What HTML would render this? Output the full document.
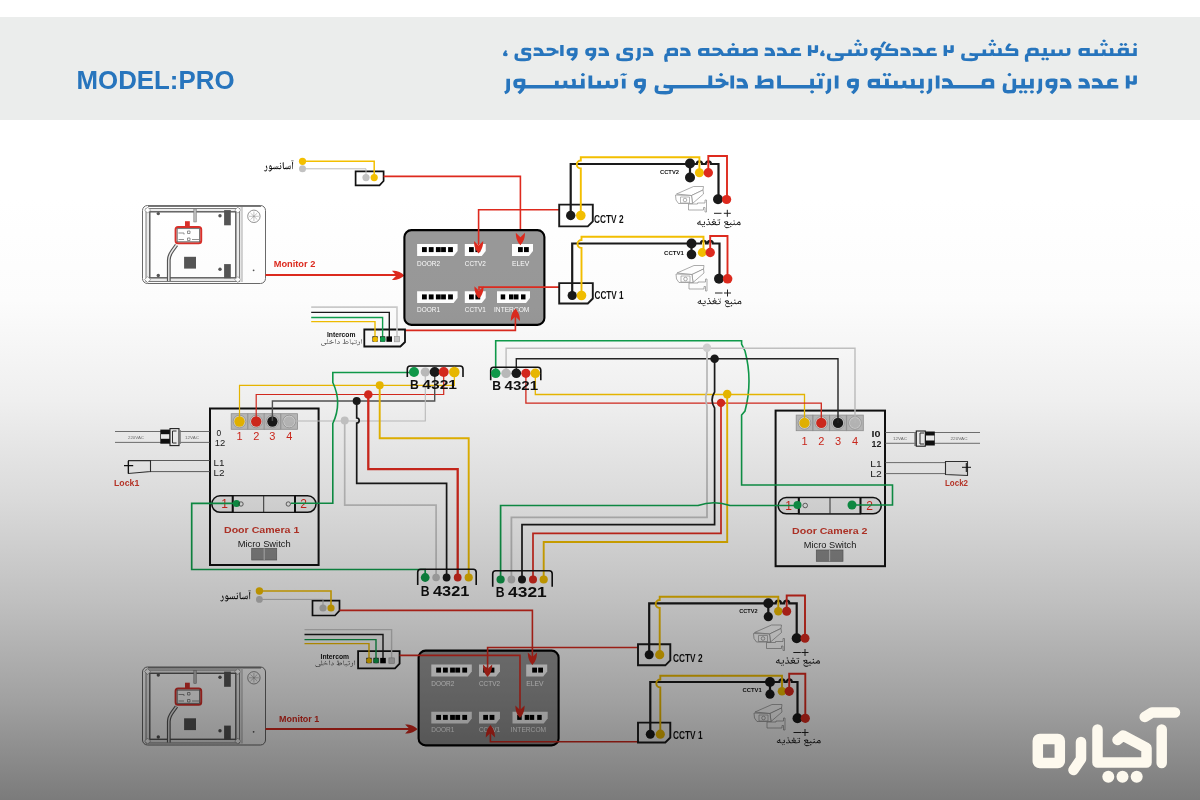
<!DOCTYPE html>
<html><head><meta charset="utf-8"><title>wiring</title><style>
html,body{margin:0;padding:0;width:1200px;height:800px;overflow:hidden;background:#fff}
#wrap{position:relative;width:1200px;height:800px;overflow:hidden}
#main,#logo{position:absolute;left:0;top:0}
#shade{position:absolute;left:0;top:0;width:1200px;height:800px;mix-blend-mode:multiply;
background:linear-gradient(to bottom,#fff 0%,#fff 25%,#fcfcfc 37.5%,#efefef 50%,#dadada 62.5%,#c0c0c0 75%,#a1a1a1 87.5%,#7b7b7b 100%)}
text{font-family:"Liberation Sans",sans-serif}
</style></head><body><div id="wrap">
<svg id="main" width="1200" height="800" viewBox="0 0 1200 800">
<rect x="0" y="17" width="1200" height="103" fill="#ebedec"/>
<text x="76.5" y="89" font-size="26" font-weight="bold" fill="#2775bd" textLength="158" lengthAdjust="spacingAndGlyphs">MODEL:PRO</text>
<path fill="#2775bd" d="M1047.6 57.6 1046.5 57.8 1045.6 58.5 1045.4 58.9 1045.6 59.5 1046.6 60.3 1047.2 60.4 1048.2 60.1 1049.0 59.2 1048.9 58.6ZM1042.7 57.6 1041.6 58.3 1041.3 58.7 1041.3 59.3 1042.2 60.1 1043.1 60.4 1043.7 60.3 1044.6 59.6 1044.9 58.9 1044.6 58.4 1043.8 57.8ZM822.3 50.3 820.4 53.2 820.2 53.8 820.2 55.1 820.5 55.8 821.1 56.1 823.3 56.2 824.0 56.0 824.4 55.7 824.7 54.8 824.7 54.1 824.3 53.2 823.4 52.8 824.1 50.7ZM505.2 50.3 503.3 53.2 503.1 53.8 503.1 55.1 503.4 55.8 504.0 56.1 506.2 56.2 506.9 56.0 507.3 55.7 507.6 54.8 507.6 54.1 507.2 53.2 506.3 52.8 507.0 50.7ZM867.0 48.0 863.6 48.3 864.2 50.8 864.2 52.5 863.9 53.2 861.0 53.2 859.9 52.9 859.7 52.6 859.7 49.5 856.3 49.5 856.3 52.7 855.8 53.1 855.1 53.2 851.8 53.2 851.8 49.5 848.4 49.5 848.3 53.2 838.5 53.2 835.4 52.8 834.9 55.5 837.1 56.0 840.5 56.2 840.5 57.5 840.2 57.8 839.0 58.2 830.5 58.3 830.2 57.5 830.2 55.8 830.9 53.8 827.7 53.4 827.4 54.0 826.9 55.8 826.9 58.0 827.3 59.0 828.3 60.2 830.6 60.9 833.4 61.2 838.5 61.1 841.0 60.7 842.2 60.2 843.0 59.6 843.6 58.3 843.8 56.1 855.2 56.1 856.7 56.0 857.8 55.6 859.5 56.0 862.9 56.1 864.9 55.8 865.9 55.4 866.5 54.9 867.4 53.2 867.5 50.1ZM640.7 47.9 637.4 47.9 637.3 57.1 636.9 57.9 636.4 58.3 635.3 58.7 636.5 61.0 638.4 60.3 639.5 59.4 640.4 58.1 640.7 56.7ZM633.1 48.2 629.5 47.7 626.0 47.8 624.2 48.3 623.5 49.0 623.2 49.7 622.9 52.2 623.2 53.3 623.6 54.1 624.5 54.7 625.7 55.0 629.7 55.4 629.8 57.5 629.4 58.0 627.3 58.3 619.9 58.3 619.6 57.5 619.6 55.8 620.2 53.8 617.0 53.4 616.7 54.0 616.3 55.8 616.3 58.0 616.6 59.0 617.2 59.8 617.7 60.2 618.9 60.7 620.0 60.9 622.7 61.2 626.4 61.2 628.6 61.0 630.4 60.7 631.6 60.2 632.3 59.6 633.0 58.3 633.1 54.9 632.9 54.1 632.5 53.6 631.3 52.8 629.4 52.5 626.6 52.3 626.4 52.1 626.4 50.9 626.6 50.7 628.0 50.6 632.5 50.9ZM531.3 48.2 527.7 47.7 524.2 47.8 522.5 48.3 521.7 49.0 521.4 49.7 521.2 52.2 521.4 53.3 521.8 54.1 522.7 54.7 523.9 55.0 527.9 55.4 528.0 57.5 527.6 58.0 525.5 58.3 518.1 58.3 517.8 57.5 517.8 55.8 518.4 53.8 515.3 53.4 514.9 54.0 514.5 55.8 514.5 58.0 514.8 59.0 515.4 59.8 515.9 60.2 517.1 60.7 518.2 60.9 520.9 61.2 524.7 61.2 526.8 61.0 528.6 60.7 529.8 60.2 530.5 59.6 531.2 58.3 531.3 54.9 531.1 54.1 530.8 53.6 529.6 52.8 527.6 52.5 524.9 52.3 524.7 52.1 524.7 50.9 524.9 50.7 526.2 50.6 530.8 50.9ZM1136.8 48.0 1133.5 47.9 1133.3 53.2 1128.9 53.2 1128.8 48.3 1125.8 47.7 1121.6 47.7 1119.9 48.1 1119.2 48.4 1118.4 49.0 1117.9 49.9 1117.7 51.7 1118.2 53.1 1118.1 53.2 1113.4 53.2 1113.5 50.1 1112.8 47.9 1109.6 48.3 1110.2 50.8 1110.2 52.5 1109.9 53.2 1106.9 53.2 1105.9 52.9 1105.6 52.6 1105.6 49.5 1102.3 49.5 1102.3 52.7 1101.6 53.2 1097.9 53.2 1097.8 49.5 1094.4 49.5 1094.4 53.2 1089.8 53.2 1089.7 47.9 1081.6 48.0 1080.3 48.3 1079.6 48.6 1078.7 49.6 1078.4 51.0 1078.5 53.8 1078.9 54.9 1079.7 55.5 1080.5 55.9 1082.3 56.1 1101.2 56.1 1102.7 56.0 1103.8 55.6 1104.9 56.0 1106.3 56.1 1136.8 56.1ZM1082.0 51.1 1082.7 50.8 1086.2 50.8 1086.4 51.0 1086.4 53.2 1082.3 53.2 1081.9 52.7ZM1121.3 50.9 1121.7 50.6 1125.3 50.5 1125.5 50.7 1125.4 52.9 1124.8 53.2 1121.3 53.2ZM1025.5 62.0 1028.7 61.6 1028.1 59.3 1028.1 57.1 1028.4 56.1 1058.2 56.1 1059.7 56.0 1060.8 55.6 1062.5 56.0 1065.9 56.1 1067.9 55.8 1068.9 55.4 1069.5 54.9 1070.4 53.2 1070.5 50.1 1070.0 48.0 1066.6 48.3 1067.2 50.8 1067.2 52.5 1066.9 53.2 1064.0 53.2 1062.9 52.9 1062.7 52.6 1062.7 49.5 1059.3 49.5 1059.3 52.7 1058.6 53.2 1054.9 53.2 1054.8 49.5 1051.4 49.5 1051.4 53.2 1047.0 53.2 1046.7 47.9 1043.5 47.9 1043.4 53.2 1038.8 53.2 1038.6 49.6 1037.9 48.6 1037.2 48.2 1035.6 47.7 1033.1 47.7 1031.0 47.8 1028.0 48.4 1027.2 50.6 1027.3 53.3 1025.9 54.0 1025.4 54.7 1024.9 55.8 1024.8 59.4ZM1035.4 50.8 1035.3 53.2 1030.6 53.2 1030.5 51.1 1030.7 50.8 1033.3 50.5 1035.2 50.6ZM698.0 51.0 698.0 53.0 698.5 54.9 699.3 55.5 700.2 55.9 701.9 56.1 716.0 56.1 717.2 56.0 719.0 55.4 720.7 54.3 721.6 55.7 722.5 56.1 757.8 56.1 757.8 50.2 757.4 49.1 756.6 48.3 755.9 48.0 754.1 47.7 751.5 47.8 749.4 48.3 747.9 49.0 746.7 50.1 746.5 47.9 743.3 47.9 743.1 53.2 738.6 53.2 738.5 48.3 736.7 47.9 734.2 47.7 732.4 47.7 730.3 47.9 729.2 48.3 728.1 49.0 727.4 50.5 727.4 51.7 727.9 53.1 727.8 53.2 723.7 53.2 722.0 49.9 720.7 48.8 719.2 48.1 716.4 47.7 713.4 47.7 712.4 47.9 712.9 50.7 715.2 50.5 717.1 50.6 718.5 51.0 719.0 51.5 718.6 52.1 717.7 52.7 716.5 53.2 709.4 53.2 709.3 47.9 702.4 47.9 700.0 48.3 698.8 48.9 698.3 49.6ZM701.6 51.1 702.4 50.8 705.8 50.8 706.1 51.0 706.1 53.2 701.9 53.2 701.5 52.7ZM754.5 51.0 754.5 53.1 754.3 53.2 746.7 53.2 746.9 52.7 747.5 51.8 749.0 51.0 751.2 50.6 753.7 50.7ZM731.0 50.9 731.4 50.6 735.0 50.5 735.2 50.7 735.1 52.9 734.5 53.2 731.0 53.2ZM676.6 48.2 675.0 47.7 672.5 47.7 669.3 48.0 667.2 48.5 666.6 50.6 666.7 53.3 665.5 53.8 664.8 54.5 664.2 56.4 664.2 59.4 664.8 62.0 668.1 61.6 667.4 59.3 667.4 57.1 667.8 56.1 678.0 56.1 678.0 50.0 677.7 49.1ZM674.8 50.8 674.6 53.2 670.0 53.2 669.8 51.1 670.1 50.8 672.7 50.5 674.5 50.6ZM590.2 47.7 587.4 48.2 586.2 48.9 585.4 50.2 585.2 52.4 585.6 54.2 586.7 55.4 588.4 56.0 592.0 56.2 590.5 58.0 589.0 59.2 591.3 61.0 592.8 59.8 594.0 58.6 594.9 57.4 595.8 55.7 596.2 54.1 596.2 48.3 593.4 47.7ZM588.8 51.0 589.2 50.6 592.8 50.5 592.8 53.0 592.3 53.2 588.9 53.2ZM571.6 47.7 568.7 48.2 567.5 48.9 566.8 50.2 566.5 52.4 567.0 54.2 568.1 55.4 569.7 56.0 573.3 56.2 571.9 58.0 570.4 59.2 572.7 61.0 574.2 59.8 575.4 58.6 576.3 57.4 577.1 55.7 577.6 54.1 577.6 48.3 574.7 47.7ZM570.1 51.0 570.6 50.6 574.2 50.5 574.2 53.0 573.6 53.2 570.3 53.2ZM912.8 47.8 913.6 50.7 915.3 50.5 916.8 50.5 917.7 50.7 918.6 51.6 919.1 53.2 912.6 53.2 912.6 56.1 936.8 56.1 936.8 53.2 930.9 53.2 930.3 53.1 929.9 52.7 930.0 50.7 932.5 50.6 935.1 51.0 935.7 48.2 933.7 47.8 930.6 47.7 929.2 47.9 928.3 48.3 927.3 49.0 926.7 50.1 926.6 53.2 923.0 53.2 922.8 53.1 921.6 49.9 920.8 48.9 920.0 48.3 919.2 47.9 917.5 47.6 914.8 47.6ZM900.6 47.8 901.4 50.7 903.1 50.5 904.6 50.5 905.5 50.7 906.3 51.6 906.9 53.2 900.3 53.2 900.3 56.1 910.8 56.1 910.8 53.6 909.9 51.0 908.6 48.9 907.4 48.1 905.9 47.7 902.6 47.6ZM777.1 47.8 777.9 50.7 779.6 50.5 781.1 50.5 782.0 50.7 782.9 51.6 783.4 53.2 776.9 53.2 776.9 56.1 801.1 56.1 801.1 53.2 795.2 53.2 794.6 53.1 794.2 52.7 794.3 50.7 796.8 50.6 799.4 51.0 800.0 48.2 798.0 47.8 794.9 47.7 793.5 47.9 792.6 48.3 791.6 49.0 791.0 50.1 790.9 53.2 787.3 53.2 787.1 53.1 785.9 49.9 785.1 48.9 784.3 48.3 783.5 47.9 781.8 47.6 779.1 47.6ZM764.9 47.8 765.7 50.7 767.4 50.5 768.9 50.5 769.8 50.7 770.6 51.6 771.2 53.2 764.6 53.2 764.6 56.1 775.1 56.1 775.1 53.6 774.2 51.0 772.9 48.9 771.7 48.1 770.2 47.7 766.9 47.6ZM680.3 47.8 681.2 50.7 682.8 50.5 684.4 50.5 685.2 50.7 686.1 51.6 686.6 53.2 680.1 53.2 680.1 56.1 690.6 56.1 690.6 53.6 689.7 51.0 688.4 48.9 687.2 48.1 685.7 47.7 682.4 47.6ZM643.1 47.8 644.0 50.7 645.6 50.5 647.2 50.5 648.0 50.7 648.9 51.6 649.4 53.2 642.9 53.2 642.9 56.1 653.4 56.1 653.4 53.6 652.5 51.0 651.2 48.9 650.0 48.1 648.5 47.7 645.2 47.6ZM598.7 47.8 599.6 50.7 601.2 50.5 602.8 50.5 603.6 50.7 604.5 51.6 605.0 53.2 598.5 53.2 598.5 56.1 609.0 56.1 609.0 53.6 608.1 51.0 606.8 48.9 605.6 48.1 604.1 47.7 600.8 47.6ZM533.7 47.8 534.6 50.7 536.2 50.5 537.7 50.5 538.6 50.7 539.5 51.6 540.0 53.2 533.5 53.2 533.5 56.1 550.3 56.0 551.6 55.8 553.6 55.0 555.5 53.4 558.5 53.4 558.5 50.5 556.5 50.5 555.0 48.8 554.4 48.5 552.7 47.9 550.6 47.7 547.5 47.7 546.5 47.9 547.0 50.7 550.0 50.5 551.9 50.8 553.0 51.3 553.0 51.6 552.1 52.4 551.2 52.9 549.4 53.2 544.0 53.2 543.7 53.1 542.5 49.9 541.8 48.9 540.9 48.3 540.1 47.9 538.4 47.6 535.8 47.6ZM953.8 45.2 950.5 45.2 950.4 50.0 947.8 50.0 947.1 49.7 947.0 45.2 943.6 45.2 943.6 56.1 947.0 56.1 947.1 52.3 948.1 52.7 949.6 52.9 951.9 52.9 953.0 52.6 953.4 52.3 953.8 51.6ZM818.1 45.2 814.8 45.2 814.7 50.0 812.1 50.0 811.4 49.7 811.3 45.2 807.9 45.2 807.9 56.1 811.3 56.1 811.4 52.3 812.4 52.7 813.9 52.9 816.2 52.9 817.3 52.6 817.7 52.3 818.1 51.6ZM560.2 45.1 560.2 56.1 563.6 56.1 563.6 45.1ZM1018.3 50.5 1017.7 49.2 1017.1 48.7 1016.0 48.3 1008.8 48.3 1008.8 47.7 1009.6 46.3 1011.6 44.4 1009.6 43.4 1008.9 43.3 1007.2 44.9 1006.0 46.7 1005.5 48.3 1005.5 49.6 1005.7 50.1 1006.3 50.7 1007.6 51.1 1014.9 51.1 1014.9 53.2 1001.8 53.2 1001.8 50.1 1001.1 47.9 997.9 48.3 998.5 50.8 998.5 52.5 998.2 53.2 995.2 53.2 994.2 52.9 993.9 52.6 993.9 49.5 990.6 49.5 990.6 52.7 990.1 53.1 989.4 53.2 986.2 53.2 986.1 49.5 982.7 49.5 982.6 53.2 972.8 53.2 969.7 52.8 969.2 55.5 972.1 56.0 974.6 56.1 974.7 57.5 974.3 58.0 972.2 58.3 964.8 58.3 964.5 57.5 964.5 55.8 965.1 53.8 962.2 53.4 961.9 53.5 961.4 54.7 961.2 55.8 961.2 58.0 961.5 59.0 962.1 59.8 962.6 60.2 963.8 60.7 966.3 61.1 971.4 61.2 975.0 60.8 976.5 60.2 977.2 59.6 977.8 58.7 978.1 56.1 989.5 56.1 991.0 56.0 992.1 55.6 993.2 56.0 994.6 56.1 1018.3 56.1ZM891.4 44.3 889.0 43.3 888.7 43.3 887.0 44.9 885.8 46.7 885.3 48.3 885.3 49.6 886.1 50.7 887.4 51.1 894.7 51.1 894.7 53.2 881.6 53.2 881.5 48.3 879.8 47.9 877.3 47.7 874.5 47.7 872.6 48.2 871.4 48.9 870.7 50.2 870.5 51.3 870.6 53.2 871.1 54.6 872.0 55.4 873.0 55.9 874.4 56.1 877.2 56.2 875.8 58.0 874.3 59.2 876.5 61.0 878.1 59.8 880.1 57.6 880.8 56.1 898.1 56.1 898.1 50.5 897.5 49.2 896.9 48.7 895.1 48.3 888.5 48.2 888.6 47.7 889.4 46.3ZM874.1 51.0 874.5 50.6 878.1 50.5 878.1 53.0 877.5 53.2 874.2 53.2ZM1134.8 43.1 1133.5 44.0 1133.3 44.6 1134.2 45.5 1135.2 45.9 1135.7 45.7 1136.7 45.0 1136.9 44.4 1136.7 43.9 1135.9 43.3ZM1125.9 43.1 1124.8 43.3 1124.0 43.9 1123.7 44.4 1124.0 45.0 1124.9 45.7 1125.5 45.9 1126.5 45.5 1127.3 44.7 1127.2 44.0ZM1121.0 43.1 1119.9 43.8 1119.6 44.2 1119.6 44.7 1120.5 45.5 1121.5 45.9 1122.0 45.7 1122.9 45.0 1123.2 44.4 1123.0 43.9 1122.1 43.3ZM1105.9 43.1 1104.9 43.6 1104.3 44.3 1104.3 44.6 1105.1 45.5 1106.2 45.9 1107.3 45.4 1107.9 44.6 1107.9 44.3 1106.8 43.3ZM1102.3 43.1 1101.2 43.3 1100.4 43.9 1100.1 44.4 1100.4 45.0 1101.2 45.6 1101.8 45.9 1102.8 45.5 1103.7 44.7 1103.7 44.2 1103.3 43.8ZM994.2 43.1 993.2 43.6 992.6 44.3 992.6 44.6 993.4 45.5 994.5 45.9 995.6 45.4 996.2 44.6 996.2 44.3 995.1 43.3ZM990.6 43.1 989.5 43.3 988.7 43.9 988.4 44.4 988.7 45.0 989.5 45.6 990.1 45.9 991.1 45.5 992.0 44.7 992.0 44.2 991.6 43.8ZM859.9 43.1 858.9 43.6 858.3 44.3 858.3 44.6 859.1 45.5 860.2 45.9 861.3 45.4 861.9 44.6 861.9 44.3 860.9 43.3ZM856.3 43.1 855.2 43.3 854.4 43.9 854.1 44.4 854.4 45.0 855.2 45.6 855.8 45.9 856.8 45.5 857.7 44.7 857.7 44.2 857.4 43.8ZM732.8 43.1 731.5 44.0 731.4 44.6 732.2 45.5 733.2 45.9 733.8 45.7 734.8 45.0 735.0 44.4 734.8 43.9 733.9 43.3ZM884.0 41.3 883.3 41.7 882.2 42.9 881.0 44.9 880.4 46.6 880.4 47.1 883.1 47.7 883.7 45.9 884.6 44.3 886.4 42.5 886.3 42.2ZM1103.7 39.5 1102.6 40.2 1102.3 40.6 1102.3 41.1 1103.2 42.1 1104.1 42.3 1104.8 42.1 1105.5 41.5 1105.9 40.9 1105.5 40.3 1104.8 39.7ZM992.0 39.5 990.9 40.2 990.6 40.6 990.6 41.1 991.5 42.1 992.4 42.3 993.1 42.1 993.8 41.5 994.2 40.9 993.8 40.3 993.1 39.7ZM857.7 39.5 856.6 40.2 856.3 40.6 856.3 41.1 857.3 42.1 858.1 42.3 858.8 42.1 859.5 41.5 859.9 40.9 859.5 40.3 858.8 39.7Z"/>
<path fill="#2775bd" d="M1031.5 90.2 1030.1 91.3 1030.0 92.0 1030.9 93.2 1032.0 93.5 1032.6 93.3 1033.7 92.5 1033.9 91.8 1033.7 91.2 1032.7 90.5ZM1025.9 90.2 1024.7 90.5 1023.8 91.2 1023.5 91.8 1023.8 92.5 1024.8 93.3 1025.4 93.5 1026.5 93.2 1027.5 92.0 1027.3 91.3ZM1020.5 90.2 1019.3 91.0 1019.0 91.5 1019.0 92.2 1019.9 93.2 1021.0 93.5 1021.6 93.3 1022.6 92.5 1022.9 91.8 1022.6 91.2 1021.7 90.5ZM921.6 90.2 920.1 91.3 920.0 92.0 921.0 93.2 922.0 93.5 922.6 93.3 923.7 92.5 924.0 91.8 923.7 91.2 922.8 90.5ZM811.7 90.2 810.3 91.3 810.2 92.0 811.1 93.2 812.2 93.5 812.8 93.3 813.9 92.5 814.1 91.8 813.9 91.2 812.9 90.5ZM1042.1 78.8 1038.6 78.8 1038.4 89.5 1038.0 90.5 1037.4 91.0 1036.2 91.5 1037.5 94.2 1039.6 93.3 1040.8 92.3 1041.8 90.8 1042.1 89.2ZM1002.7 86.7 1002.7 89.8 1003.0 91.0 1003.6 92.0 1004.3 92.7 1005.3 93.0 1007.9 93.5 1012.2 93.3 1013.4 93.2 1014.7 92.7 1015.5 91.8 1015.9 91.0 1016.2 88.5 1033.8 88.5 1033.8 78.8 1030.1 78.8 1030.0 85.0 1025.1 85.0 1025.0 78.8 1021.4 78.8 1021.3 85.0 1016.4 85.0 1016.1 84.8 1016.1 78.8 1012.5 78.8 1012.5 89.2 1011.8 89.8 1010.3 90.0 1006.6 90.0 1006.3 89.0 1006.3 86.7 1006.9 83.8 1003.6 83.3 1003.1 84.7ZM932.1 78.8 928.5 78.8 928.4 89.5 927.9 90.5 927.3 91.0 926.1 91.5 927.4 94.2 929.6 93.3 930.8 92.3 931.7 90.8 932.1 89.2ZM867.7 81.7 867.6 84.8 868.1 86.8 869.0 87.8 870.9 88.3 901.4 88.5 904.5 87.8 905.4 88.2 907.0 88.5 923.8 88.5 923.7 78.8 920.1 78.8 920.0 85.0 914.8 85.0 914.9 81.3 914.2 78.8 910.6 79.2 911.3 82.2 911.3 84.2 910.9 85.0 907.7 85.0 906.5 84.7 906.3 84.2 906.3 80.7 902.6 80.7 902.6 84.5 901.9 85.0 897.8 85.0 897.7 80.7 894.0 80.7 894.0 85.0 889.0 85.0 888.7 78.8 885.1 78.8 885.0 85.0 880.0 85.0 880.0 78.8 872.4 78.8 870.1 79.0 869.3 79.3 868.4 80.0ZM871.5 82.5 872.4 82.2 876.2 82.2 876.4 82.3 876.4 85.0 871.9 85.0 871.4 84.3ZM831.1 78.8 827.5 78.8 827.4 89.5 826.9 90.5 826.3 91.0 825.1 91.5 826.4 94.2 828.6 93.3 829.8 92.3 830.7 90.8 831.1 89.2ZM621.9 78.8 621.9 88.5 625.6 88.5 625.6 78.8ZM510.0 78.8 506.4 78.8 506.3 89.5 505.9 90.5 505.3 91.0 504.1 91.5 505.4 94.2 507.5 93.3 508.7 92.3 509.7 90.8 510.0 89.2ZM1050.9 78.5 1047.8 79.0 1046.4 80.0 1045.6 81.5 1045.4 84.0 1045.8 86.2 1047.0 87.7 1048.8 88.3 1052.8 88.5 1051.2 90.7 1049.5 92.0 1052.1 94.2 1053.7 92.8 1055.0 91.3 1056.0 90.0 1056.9 88.0 1057.4 86.0 1057.4 79.2 1054.3 78.5ZM1049.3 82.3 1049.8 82.0 1053.7 81.8 1053.7 84.8 1053.1 85.0 1049.4 85.0ZM852.3 78.5 849.2 79.0 847.9 80.0 847.1 81.5 846.8 84.0 847.3 86.2 848.5 87.7 850.3 88.3 854.2 88.5 852.7 90.7 851.0 92.0 853.5 94.2 855.2 92.8 856.5 91.3 857.5 90.0 858.4 88.0 858.9 86.0 858.9 79.2 855.8 78.5ZM850.8 82.3 851.2 82.0 855.2 81.8 855.2 84.8 854.6 85.0 850.9 85.0ZM639.3 78.5 636.2 79.0 634.9 80.0 634.1 81.5 633.8 84.0 634.3 86.2 635.5 87.7 637.3 88.3 641.2 88.5 639.7 90.7 638.0 92.0 640.5 94.2 642.2 92.8 643.5 91.3 644.5 90.0 645.4 88.0 645.9 86.0 645.9 79.2 642.8 78.5ZM637.8 82.3 638.3 82.0 642.2 81.8 642.2 84.8 641.6 85.0 637.9 85.0ZM513.3 82.8 513.3 84.0 513.6 85.8 514.0 86.7 514.9 87.7 516.7 88.3 520.7 88.5 519.1 90.7 517.4 92.0 519.8 94.2 521.6 92.8 523.8 90.2 524.6 88.5 562.4 88.5 564.1 88.2 565.3 87.8 566.5 88.2 568.1 88.5 584.8 88.5 584.6 78.8 581.1 78.8 580.9 85.0 575.8 85.0 575.9 81.3 575.2 78.8 571.6 79.2 572.4 82.2 572.4 84.2 572.0 85.0 568.8 85.0 567.6 84.7 567.3 84.2 567.3 80.7 563.6 80.7 563.6 84.5 563.2 84.8 562.3 85.0 558.7 85.0 558.7 80.7 555.0 80.7 554.9 85.0 525.4 85.0 525.3 79.2 523.5 78.8 520.8 78.5 517.1 78.7 515.6 79.0 514.9 79.5 513.7 80.8ZM517.2 82.3 517.7 82.0 521.6 81.8 521.6 84.8 521.0 85.0 517.3 85.0ZM1092.1 78.7 1093.0 82.0 1094.8 81.8 1096.5 81.8 1097.4 82.0 1098.4 83.2 1099.0 85.0 1091.8 85.0 1091.8 88.5 1118.3 88.5 1118.3 85.0 1111.9 85.0 1111.3 84.8 1110.8 84.3 1110.9 82.0 1113.7 82.0 1116.5 82.3 1117.1 79.0 1115.0 78.7 1111.5 78.5 1110.1 78.8 1109.0 79.2 1107.9 80.0 1107.3 81.3 1107.2 85.0 1103.3 85.0 1103.0 84.8 1101.7 81.2 1100.9 80.0 1099.9 79.2 1099.1 78.8 1097.2 78.3 1094.3 78.3ZM1078.7 78.7 1079.6 82.0 1081.4 81.8 1083.1 81.8 1084.1 82.0 1085.0 83.2 1085.6 85.0 1078.4 85.0 1078.4 88.5 1089.9 88.5 1089.9 85.5 1088.9 82.5 1087.5 80.0 1086.2 79.0 1084.5 78.5 1080.9 78.3ZM1060.2 78.7 1061.1 82.0 1062.9 81.8 1064.6 81.8 1065.5 82.0 1066.5 83.2 1067.1 85.0 1059.9 85.0 1059.9 88.5 1071.4 88.5 1071.4 85.5 1070.4 82.5 1069.0 80.0 1067.7 79.0 1066.0 78.5 1062.4 78.3ZM942.1 78.7 943.1 82.0 944.8 81.8 946.5 81.8 947.5 82.0 948.4 83.2 949.0 85.0 941.9 85.0 941.9 88.5 994.3 88.5 994.2 80.8 993.9 80.2 993.2 79.3 991.5 78.7 990.0 78.5 986.7 78.5 982.6 79.3 981.7 82.0 981.7 85.0 953.3 85.0 953.1 84.8 951.8 81.2 950.9 80.0 950.0 79.2 949.1 78.8 947.2 78.3 944.4 78.3ZM990.7 82.2 990.6 85.0 985.4 85.0 985.3 82.5 985.6 82.2 988.4 81.8 990.5 82.0ZM736.7 78.7 737.7 82.0 739.5 81.8 741.2 81.8 742.1 82.0 743.1 83.2 743.7 85.0 736.5 85.0 736.5 88.5 748.0 88.5 748.0 85.5 747.0 82.5 745.6 80.0 744.3 79.0 742.6 78.5 739.0 78.3ZM1136.9 75.5 1133.4 75.5 1133.2 81.2 1130.4 81.2 1129.7 80.8 1129.5 75.5 1125.8 75.5 1125.8 88.5 1129.5 88.5 1129.7 84.0 1130.7 84.3 1132.4 84.7 1134.9 84.7 1136.1 84.2 1136.5 84.0 1136.9 83.0ZM935.8 75.5 935.8 88.5 939.5 88.5 939.5 75.5ZM834.8 75.5 834.8 88.5 838.5 88.5 838.5 75.5ZM777.2 75.5 777.2 88.5 822.7 88.5 822.6 78.8 819.0 78.8 818.9 85.0 814.0 85.0 813.9 78.8 810.3 78.8 810.2 85.0 781.0 85.0 780.9 75.5ZM757.6 75.5 757.6 85.0 754.9 85.0 754.9 88.5 773.5 88.5 773.5 81.5 773.2 80.2 772.2 79.2 771.5 78.8 769.5 78.5 766.1 78.8 763.3 79.8 761.8 80.8 761.5 81.3 761.3 75.5ZM769.9 82.3 769.9 84.8 769.7 85.0 761.5 85.0 761.6 84.3 762.3 83.3 764.0 82.3 766.4 82.0 769.1 82.0ZM730.4 75.5 730.4 88.5 734.1 88.5 734.1 75.5ZM728.5 81.8 726.4 81.8 724.7 79.8 724.1 79.5 722.2 78.8 719.9 78.5 715.5 78.7 716.0 82.0 718.5 81.8 720.5 82.0 722.1 82.5 722.5 82.8 722.5 83.0 721.1 84.3 719.4 85.0 712.3 85.0 712.2 75.5 708.5 75.5 708.3 85.0 667.3 85.0 663.9 84.5 663.3 87.8 665.7 88.2 669.4 88.5 669.4 90.0 669.2 90.5 668.5 90.8 666.7 91.0 658.5 91.0 658.2 90.0 658.2 88.0 658.9 85.8 655.4 85.2 655.1 86.0 654.6 88.0 654.6 90.7 655.0 91.8 655.6 92.8 656.2 93.2 657.5 93.8 660.2 94.3 665.7 94.5 669.7 94.0 671.3 93.2 672.2 92.5 672.8 91.5 673.1 88.5 719.6 88.3 721.0 88.0 723.1 87.2 725.3 85.2 728.5 85.2ZM588.5 75.5 588.5 88.5 604.7 88.5 606.4 88.2 607.6 87.8 609.5 88.3 613.2 88.5 614.6 88.2 616.0 87.8 617.1 87.0 617.7 86.0 618.2 84.3 618.2 81.3 617.5 78.8 613.9 79.2 614.6 82.2 614.6 84.2 614.3 85.0 611.0 85.0 609.8 84.7 609.6 84.2 609.6 80.7 605.9 80.7 605.9 84.5 605.2 85.0 601.1 85.0 601.0 80.7 597.3 80.7 597.3 85.0 592.3 85.0 592.2 75.5ZM620.2 75.0 620.7 75.7 622.5 75.0 623.3 75.8 624.4 75.8 627.3 74.2 626.7 73.5 625.0 74.0 624.2 73.3 623.1 73.2 621.4 74.0ZM1009.1 73.0 1007.8 74.0 1007.5 75.0 1008.6 76.0 1009.6 76.3 1010.3 76.0 1011.1 75.3 1011.3 74.3 1010.4 73.3 1009.8 73.0ZM889.7 73.0 889.0 73.0 887.7 74.0 887.3 74.7 887.7 75.3 888.5 76.0 889.3 76.3 890.2 76.0 891.2 75.0 891.2 74.3 890.9 73.8ZM884.3 73.0 883.1 73.8 882.8 74.3 882.8 75.0 883.7 76.0 884.8 76.3 885.4 76.2 886.3 75.3 886.7 74.5 886.3 74.0 885.5 73.2ZM823.5 73.0 822.8 73.0 821.5 74.0 821.2 74.7 821.5 75.3 822.4 76.0 823.2 76.3 824.0 76.0 825.1 75.0 825.1 74.3 824.7 73.8ZM818.2 73.0 817.0 73.8 816.6 74.3 816.6 75.0 817.6 76.0 818.6 76.3 819.2 76.2 820.2 75.3 820.6 74.5 820.2 74.0 819.4 73.2ZM720.6 73.0 719.2 74.2 719.1 74.8 720.0 76.0 721.1 76.3 721.7 76.2 722.8 75.2 723.0 74.5 722.8 74.0 721.8 73.2ZM582.5 73.0 581.1 74.2 580.9 74.8 581.9 76.0 583.0 76.3 583.6 76.2 584.6 75.2 584.9 74.5 584.6 74.0 583.7 73.2Z"/>
<g transform="translate(0,0)">
<rect x="142.5" y="205.5" width="123" height="78" rx="5" fill="#fff" stroke="#6a6a6a" stroke-width="1"/>
<path d="M148,206.3 H261" stroke="#777" stroke-width="1.6"/>
<rect x="146" y="208.5" width="93.5" height="73" fill="#ececec" stroke="#707070" stroke-width="0.9"/>
<rect x="149.8" y="211.8" width="86" height="66" fill="#fff" stroke="#5a5a5a" stroke-width="1.4"/>
<path d="M144.6,210.1 L147.6,207.1 L150.6,210.1 L147.6,213.1 Z" fill="#fff" stroke="#777" stroke-width="0.6"/>
<path d="M234.8,210.1 L237.8,207.1 L240.8,210.1 L237.8,213.1 Z" fill="#fff" stroke="#777" stroke-width="0.6"/>
<path d="M144.6,279.6 L147.6,276.6 L150.6,279.6 L147.6,282.6 Z" fill="#fff" stroke="#777" stroke-width="0.6"/>
<path d="M234.8,279.6 L237.8,276.6 L240.8,279.6 L237.8,282.6 Z" fill="#fff" stroke="#777" stroke-width="0.6"/>
<rect x="240.5" y="207" width="2.4" height="75" fill="#d0d0d0"/>
<circle cx="253.9" cy="216.3" r="6.2" fill="#fff" stroke="#777" stroke-width="0.8"/>
<path d="M249,216.3 H258.8 M253.9,211.5 V221 M250.5,213 L257.3,219.6 M257.3,213 L250.5,219.6" stroke="#888" stroke-width="0.5"/>
<circle cx="253.6" cy="270.3" r="0.9" fill="#555"/>
<circle cx="158.3" cy="213.6" r="1.7" fill="#555"/>
<circle cx="158.3" cy="275.5" r="1.7" fill="#555"/>
<circle cx="220" cy="215.8" r="1.7" fill="#555"/>
<circle cx="220" cy="269.3" r="1.7" fill="#555"/>
<rect x="224.1" y="210.1" width="6.7" height="15.2" fill="#555"/>
<rect x="224.1" y="264.1" width="6.7" height="14.1" fill="#555"/>
<rect x="184.1" y="256.8" width="11.9" height="11.8" fill="#555"/>
<rect x="193.8" y="209" width="2.6" height="13" fill="#bbb" stroke="#777" stroke-width="0.5"/>
<path d="M176.5,245 L172.5,250.5 C170,254 168.8,256 168.8,260 V281" fill="none" stroke="#555" stroke-width="3.8"/>
<path d="M176.5,245 L172.5,250.5 C170,254 168.8,256 168.8,260 V281" fill="none" stroke="#eee" stroke-width="1.4"/>
<rect x="185" y="221.2" width="4.8" height="5.5" fill="#d9302a"/>
<rect x="175.6" y="227.1" width="25.6" height="16.2" rx="2.5" fill="#fff" stroke="#d9302a" stroke-width="2"/>
<rect x="177.2" y="228.6" width="22.4" height="13.2" fill="none" stroke="#666" stroke-width="0.9"/>
<path d="M178.5,233 H184 V234.5 M187.5,231 H190 V233.5 H187.5 Z M178.5,239.5 H184 M187.5,238 H190 V240.5 H187.5 Z M192,239.5 H199" fill="none" stroke="#777" stroke-width="0.8"/>
</g>
<path d="M265.5,275 H397" fill="none" stroke="#de2a1e" stroke-width="2" stroke-linejoin="miter" />
<text x="273.7" y="267" font-size="9.6" font-weight="bold" fill="#de2a1e" text-anchor="start" textLength="41.6" lengthAdjust="spacingAndGlyphs" >Monitor 2</text>
<path d="M404.4,275.4 C401.4,272.9 398.4,270.79999999999995 391.9,270.79999999999995 L396.4,275.4 L391.9,280.0 C398.4,280.0 401.4,277.9 404.4,275.4 Z" fill="#de2a1e"/>
<path d="M355.6,171.4 H383.6 V181 L379.5,185.4 H355.6 Z" fill="#fff" stroke="#111" stroke-width="1.7"/>
<path d="M302.5,161.3 H374.2 V177.5" fill="none" stroke="#f3bf00" stroke-width="1.5" stroke-linejoin="miter" />
<path d="M302.5,168.8 H366 V177.5" fill="none" stroke="#bdbdbd" stroke-width="1.0" stroke-linejoin="miter" />
<circle cx="302.5" cy="161.3" r="3.6" fill="#f3bf00"/>
<circle cx="302.5" cy="168.8" r="3.5" fill="#c2c2c2"/>
<circle cx="366" cy="177.6" r="3.6" fill="#c2c2c2"/>
<circle cx="374.2" cy="177.6" r="3.6" fill="#f3bf00"/>
<path fill="#111" d="M266.6 165.3 266.0 165.9 265.8 166.4 266.2 167.4 266.8 168.6 266.7 169.3 265.8 170.2 265.1 170.4 264.0 170.2 263.8 170.6 265.0 171.5 266.0 171.3 266.5 170.9 267.2 169.6 267.3 167.7ZM280.9 165.0 280.7 165.1 280.2 165.8 280.2 166.2 280.8 167.4 280.8 167.8 279.6 168.1 278.2 167.9 278.0 167.5 278.5 166.2 277.9 166.1 277.7 166.4 277.3 167.9 276.9 168.2 276.2 168.1 276.7 166.3 276.2 166.2 275.9 166.5 275.6 167.5 275.3 168.1 274.4 168.2 274.2 168.0 274.5 166.7 274.1 166.7 273.7 167.5 273.2 168.0 272.0 168.1 271.4 166.0 270.7 165.3 270.1 165.3 269.6 165.8 269.1 167.0 269.1 168.2 269.2 168.6 269.8 169.0 271.3 169.3 270.3 170.2 269.6 170.4 268.4 170.2 268.3 170.6 269.5 171.5 269.9 171.5 271.0 170.9 271.5 170.2 272.0 169.2 273.7 169.0 274.4 169.3 275.6 169.1 277.1 169.3 277.5 169.1 277.8 168.7 278.9 169.2 279.6 169.2 280.5 168.9 281.0 168.6 281.4 167.4ZM269.5 166.9 269.8 166.5 270.3 166.4 271.0 167.0 271.4 168.0 270.0 167.9 269.6 167.6ZM280.5 162.7 280.3 162.7 279.7 163.4 280.4 164.1 281.0 163.4ZM292.9 162.1 292.6 162.1 292.0 162.6 292.4 169.2 292.9 169.1 292.9 163.6 293.2 163.3ZM282.6 162.8 283.0 168.0 283.4 168.8 284.2 169.2 285.7 169.0 286.4 169.3 287.3 169.3 287.8 169.1 288.0 168.8 289.7 169.3 290.3 169.2 290.7 167.7 290.3 165.3 289.5 166.1 289.5 166.6 290.2 168.1 290.1 168.3 289.1 168.1 288.3 167.7 288.7 166.3 288.2 166.2 287.9 166.5 287.7 167.5 287.3 168.1 286.5 168.2 286.2 168.0 286.6 166.7 286.2 166.7 285.7 167.5 285.2 168.0 284.0 168.0 283.8 167.7 283.6 162.1ZM291.1 161.1 291.4 161.2 292.0 161.0 292.3 161.2 293.1 161.2 293.6 160.9 293.8 160.5 293.2 160.7 291.7 160.5Z"/>
<path d="M383.6,176.4 H520.4 V238" fill="none" stroke="#de2a1e" stroke-width="1.6" stroke-linejoin="miter" />
<g transform="translate(0,0)">
<rect x="404.4" y="230.1" width="140" height="94.8" rx="7" fill="#999" stroke="#000" stroke-width="2.1"/>
<path d="M417.1,243.9 H457.6 V250.9 L453.6,255.9 H417.1 Z" fill="#fff"/>
<rect x="422" y="247.1" width="4.8" height="5.0" fill="#000"/>
<rect x="428.8" y="247.1" width="4.8" height="5.0" fill="#000"/>
<rect x="435.9" y="247.1" width="4.8" height="5.0" fill="#000"/>
<rect x="441.1" y="247.1" width="4.8" height="5.0" fill="#000"/>
<rect x="448.1" y="247.1" width="4.8" height="5.0" fill="#000"/>
<path d="M464.8,243.9 H485.75 V250.9 L481.75,255.9 H464.8 Z" fill="#fff"/>
<rect x="469" y="247.1" width="4.8" height="5.0" fill="#000"/>
<rect x="475.4" y="247.1" width="4.8" height="5.0" fill="#000"/>
<path d="M512,243.9 H533 V250.9 L529,255.9 H512 Z" fill="#fff"/>
<rect x="518" y="247.1" width="4.8" height="5.0" fill="#000"/>
<rect x="524" y="247.1" width="4.8" height="5.0" fill="#000"/>
<path d="M417.1,291.25 H457.6 V298.1 L453.6,303.1 H417.1 Z" fill="#fff"/>
<rect x="422" y="294.4" width="4.8" height="5.0" fill="#000"/>
<rect x="428.8" y="294.4" width="4.8" height="5.0" fill="#000"/>
<rect x="435.9" y="294.4" width="4.8" height="5.0" fill="#000"/>
<rect x="441.1" y="294.4" width="4.8" height="5.0" fill="#000"/>
<rect x="448.1" y="294.4" width="4.8" height="5.0" fill="#000"/>
<path d="M464.8,291.25 H485.75 V298.1 L481.75,303.1 H464.8 Z" fill="#fff"/>
<rect x="469" y="294.4" width="4.8" height="5.0" fill="#000"/>
<rect x="475.4" y="294.4" width="4.8" height="5.0" fill="#000"/>
<path d="M497,291.25 H530 V298.1 L526,303.1 H497 Z" fill="#fff"/>
<rect x="500.7" y="294.4" width="4.5" height="5.0" fill="#000"/>
<rect x="509" y="294.4" width="4.5" height="5.0" fill="#000"/>
<rect x="514" y="294.4" width="4.5" height="5.0" fill="#000"/>
<rect x="521" y="294.4" width="4.5" height="5.0" fill="#000"/>
<text x="417.1" y="265.6" font-size="7.6" font-weight="normal" fill="#fff" text-anchor="start" textLength="23" lengthAdjust="spacingAndGlyphs" >DOOR2</text>
<text x="464.8" y="265.6" font-size="7.6" font-weight="normal" fill="#fff" text-anchor="start" textLength="21" lengthAdjust="spacingAndGlyphs" >CCTV2</text>
<text x="512" y="265.6" font-size="7.6" font-weight="normal" fill="#fff" text-anchor="start" textLength="17.3" lengthAdjust="spacingAndGlyphs" >ELEV</text>
<text x="417.1" y="311.5" font-size="7.6" font-weight="normal" fill="#fff" text-anchor="start" textLength="23" lengthAdjust="spacingAndGlyphs" >DOOR1</text>
<text x="464.8" y="311.5" font-size="7.6" font-weight="normal" fill="#fff" text-anchor="start" textLength="21" lengthAdjust="spacingAndGlyphs" >CCTV1</text>
<text x="494" y="311.5" font-size="7.6" font-weight="normal" fill="#fff" text-anchor="start" textLength="35.4" lengthAdjust="spacingAndGlyphs" >INTERCOM</text>
</g>
<path d="M520.4,245.2 C517.9,242.2 515.8,239.2 515.8,232.7 L520.4,237.2 L525.0,232.7 C525.0,239.2 522.9,242.2 520.4,245.2 Z" fill="#de2a1e"/>
<path d="M559.2,209.8 H478.6 V245" fill="none" stroke="#de2a1e" stroke-width="1.6" stroke-linejoin="miter" />
<path d="M478.6,253.6 C476.1,250.6 474.0,247.6 474.0,241.1 L478.6,245.6 L483.20000000000005,241.1 C483.20000000000005,247.6 481.1,250.6 478.6,253.6 Z" fill="#de2a1e"/>
<path d="M559.2,287.1 H479 V290" fill="none" stroke="#de2a1e" stroke-width="1.6" stroke-linejoin="miter" />
<path d="M479,298.8 C476.5,295.8 474.4,292.8 474.4,286.3 L479,290.8 L483.6,286.3 C483.6,292.8 481.5,295.8 479,298.8 Z" fill="#de2a1e"/>
<path d="M405,330.4 H515.4 V315" fill="none" stroke="#de2a1e" stroke-width="1.6" stroke-linejoin="miter" />
<path d="M515.4,308.5 C512.9,311.5 510.79999999999995,314.5 510.79999999999995,321.0 L515.4,316.5 L520.0,321.0 C520.0,314.5 517.9,311.5 515.4,308.5 Z" fill="#de2a1e"/>
<path d="M364.3,329.5 H405 V342 L400.4,346.5 H364.3 Z" fill="#fff" stroke="#111" stroke-width="1.8"/>
<path d="M311.2,307.1 H397 V339" fill="none" stroke="#cdcdcd" stroke-width="1.6" stroke-linejoin="miter" />
<path d="M311.2,312.4 H389.3 V339" fill="none" stroke="#1a1a1a" stroke-width="1.4" stroke-linejoin="miter" />
<path d="M311.2,317.5 H382.6 V339" fill="none" stroke="#0f9f4c" stroke-width="1.4" stroke-linejoin="miter" />
<path d="M311.2,321.6 H375 V339" fill="none" stroke="#f3bf00" stroke-width="1.4" stroke-linejoin="miter" />
<rect x="372.4" y="336.3" width="5.3" height="5.4" fill="#111"/><circle cx="375.2" cy="339.3" r="2.7" fill="#f3bf00"/>
<rect x="380" y="336.3" width="5.3" height="5.4" fill="#111"/><circle cx="382.7" cy="339.3" r="2.7" fill="#0f9f4c"/>
<rect x="386.4" y="336.4" width="5.6" height="5.4" fill="#000"/>
<rect x="394.3" y="336.4" width="5.4" height="5.4" fill="#ccc" stroke="#999" stroke-width="0.6"/>
<text x="327" y="336.8" font-size="7.2" font-weight="bold" fill="#111" text-anchor="start" textLength="28.5" lengthAdjust="spacingAndGlyphs" >Intercom</text>
<path fill="#222" d="M352.7 344.3 352.1 344.7 352.8 345.1 353.3 344.6ZM359.2 341.5 358.8 341.8 358.8 342.2 359.6 343.4 359.6 343.6 359.2 344.2 358.6 344.6 358.1 344.7 356.9 344.6 356.9 344.9 357.8 345.2 358.5 345.1 359.1 344.9 359.8 344.0 359.9 342.9ZM338.9 341.1 338.5 341.3 338.5 341.8 339.4 343.1 338.9 343.3 337.6 343.3 336.9 343.0 336.8 343.5 337.4 343.8 338.4 343.8 339.5 343.5 339.8 342.7ZM354.9 340.0 354.4 340.5 354.9 340.8 355.4 340.4ZM331.2 340.0 330.7 340.5 331.3 340.9 331.8 340.4ZM356.2 340.0 355.7 340.3 356.3 340.7 356.8 340.3ZM361.6 339.2 361.2 339.5 361.4 343.8 361.7 343.7 361.7 340.2 362.0 340.0ZM349.8 339.5 350.2 343.2 350.5 343.6 351.0 343.8 351.7 343.8 352.2 343.7 352.6 343.4 353.6 343.8 354.5 343.8 355.7 343.6 356.3 343.4 356.5 342.5 356.2 341.3 356.1 341.3 355.7 341.8 356.1 342.9 356.1 343.1 355.1 343.3 353.5 343.3 352.9 343.0 353.3 342.4 352.9 342.3 352.5 342.9 351.9 343.3 350.9 343.3 350.6 343.2 350.4 342.8 350.3 339.2ZM344.2 339.3 343.9 339.5 343.9 340.1 344.5 342.7 343.9 343.2 342.7 343.0 342.6 343.2 343.6 343.7 344.6 343.8 346.2 343.8 347.8 343.4 348.4 342.9 348.5 342.2 347.9 341.7 347.2 341.4 346.2 341.5 344.9 342.4 344.6 340.7 344.6 340.2 344.7 339.8 344.5 339.2ZM348.2 342.6 347.9 342.9 346.5 343.3 344.4 343.2 345.4 342.4 346.2 342.0 346.7 341.9 347.4 342.1ZM335.6 339.2 335.2 339.5 335.4 343.8 335.7 343.7 335.7 340.2 336.0 340.0ZM334.0 342.6 332.7 342.4 330.9 341.6 330.0 341.5 329.4 341.8 329.3 342.2 330.5 342.0 331.1 342.2 332.0 342.8 330.0 343.3 328.2 343.3 327.9 343.2 327.7 342.7 327.7 339.2 327.2 339.5 327.5 343.1 327.0 343.3 324.5 343.2 324.3 343.7 325.8 344.5 324.9 344.9 323.8 345.1 322.6 345.1 321.9 344.9 321.4 344.3 321.4 343.5 321.2 343.5 321.0 343.8 321.0 344.7 321.2 345.0 322.0 345.5 324.0 345.5 325.3 345.1 326.1 344.6 326.1 344.1 325.4 343.8 325.4 343.7 326.9 343.8 327.7 343.5 328.4 343.8 330.3 343.7 332.5 343.0 333.6 343.0Z"/>
<path d="M559.2,204.6 H592.8 V221.4 L587.8,226.4 H559.2 Z" fill="#fff" stroke="#1a1a1a" stroke-width="1.9"/>
<path d="M570.7,215.5 V164 H696.8 A2.6,2.6 0 0 1 702.0,164 H705.7 A2.6,2.6 0 0 1 710.9,164 H718.5 V199" fill="none" stroke="#1a1a1a" stroke-width="2.2" stroke-linejoin="miter" />
<path d="M580.8,215.5 V168.5 A4,4 0 0 1 580.8,160.5 V157.2 H699.4 V172.8" fill="none" stroke="#f3bf00" stroke-width="1.9" stroke-linejoin="miter" />
<path d="M708.3,172.8 V156 H727 V199.5" fill="none" stroke="#de2a1e" stroke-width="1.9" stroke-linejoin="miter" />
<circle cx="570.7" cy="215.5" r="4.7" fill="#1a1a1a"/>
<circle cx="580.8" cy="215.5" r="4.8" fill="#f3bf00"/>
<path d="M690,163.5 V177.5" fill="none" stroke="#1a1a1a" stroke-width="2.2" stroke-linejoin="miter" />
<circle cx="690" cy="163.5" r="5" fill="#1a1a1a"/>
<circle cx="690" cy="177.5" r="5" fill="#1a1a1a"/>
<circle cx="699.4" cy="172.8" r="4.5" fill="#f3bf00"/>
<circle cx="708.3" cy="172.8" r="4.7" fill="#de2a1e"/>
<circle cx="718" cy="199.2" r="5" fill="#1a1a1a"/>
<circle cx="726.6" cy="199.5" r="4.6" fill="#de2a1e"/>
<text x="594" y="222.5" font-size="11" font-weight="bold" fill="#111" text-anchor="start" textLength="29.5" lengthAdjust="spacingAndGlyphs" >CCTV 2</text>
<text x="660" y="174" font-size="6.2" font-weight="bold" fill="#111" text-anchor="start" textLength="19" lengthAdjust="spacingAndGlyphs" >CCTV2</text>
<g transform="translate(675.5,186)" fill="#fff" stroke="#8a8a8a" stroke-width="0.7" stroke-linejoin="round">
<path d="M13,18 V24 H28 V21.5 H29.5 V26 H31 V14 H29.5 V17 H22 V18 Z"/>
<path d="M1,8 L18,0.5 H28 L27.5,4 L16,9.5 Z"/>
<path d="M16,9.5 L27.5,4 L28,8 L17,17.5 Z"/>
<path d="M0,9 L16,9.5 L17,17.5 L3,17.5 L0.5,14 Z"/>
<rect x="5" y="11" width="9" height="6" fill="none" stroke="#999"/>
<circle cx="9.5" cy="14" r="1.8" fill="none"/>
</g>
<path d="M714,213.3 h7.5 M723.8,213.3 h7 M727.3,209.8 v7" stroke="#222" stroke-width="1"/>
<path fill="#111" d="M702.9 226.1 702.0 226.6 702.8 227.3 703.4 226.6ZM730.7 226.0 730.0 226.7 730.8 227.3 731.6 226.6ZM704.3 225.9 703.7 226.5 704.4 227.1 705.1 226.4ZM724.1 222.1 724.1 222.6 724.3 222.8 724.5 222.7 725.9 224.1 724.7 225.2 724.5 225.8 724.6 226.8 725.2 227.6 726.6 228.2 728.1 228.1 729.4 227.5 729.8 227.2 729.7 227.0 727.1 227.3 725.7 227.0 725.0 226.4 724.9 225.9 725.2 225.3 726.2 224.5 727.3 225.0 728.8 225.2 729.9 225.0 730.6 224.4 731.0 224.8 732.3 225.2 733.4 225.0 734.1 224.4 734.5 224.8 735.8 225.2 736.3 225.1 737.1 224.6 738.6 225.1 740.0 225.2 740.6 224.4 740.4 222.9 740.0 222.2 739.3 221.6 738.3 221.8 737.7 222.5 737.1 223.5 736.5 224.0 735.9 224.2 734.7 224.0 734.4 223.7 734.9 222.8 734.7 222.6 734.2 222.8 733.5 223.9 732.6 224.2 731.6 224.1 730.9 223.7 731.5 222.8 731.3 222.6 730.8 222.7 730.2 223.7 729.6 224.1 727.5 224.1 727.3 223.9 728.2 223.0 728.3 222.4 728.0 221.7 726.9 221.2 725.1 221.4 724.5 221.6ZM738.5 222.7 739.0 222.6 739.4 223.0 739.7 223.7 739.6 224.3 738.4 224.1 737.7 223.7ZM725.3 222.3 726.2 222.1 726.9 222.2 727.3 222.7 727.2 223.1 726.5 223.6 725.1 222.5ZM706.1 224.7 707.0 225.2 708.8 225.1 709.9 224.6 710.6 225.0 711.4 225.2 713.2 224.9 714.0 224.5 715.1 225.0 716.6 225.2 718.7 224.9 719.6 224.5 720.1 223.5 719.5 221.2 718.7 221.9 718.8 222.6 719.4 223.5 719.3 223.9 717.2 224.2 715.2 224.1 715.1 223.9 715.9 223.0 715.9 222.1 715.2 221.4 713.6 221.2 712.3 221.6 711.7 222.3 711.9 222.8 712.3 222.7 713.4 223.9 713.2 224.1 711.2 224.2 710.7 224.0 710.2 223.5 709.7 222.6 709.2 220.9 709.0 220.9 708.6 221.3 708.5 221.8 709.5 224.0 708.9 224.2 707.2 224.2 706.3 223.8ZM713.1 222.3 713.8 222.1 714.7 222.2 715.0 222.5 714.9 223.2 714.3 223.6 712.9 222.5ZM697.1 223.5 697.1 224.0 698.6 224.7 699.5 224.8 699.9 224.1 700.5 224.9 701.7 225.2 704.4 224.7 704.8 224.5 705.2 223.5 704.7 221.2 703.8 221.9 703.9 222.6 704.5 223.5 704.4 223.9 702.3 224.2 701.5 224.2 700.5 223.9 700.3 220.6 699.4 221.1 699.4 221.5 698.2 222.1 697.5 222.7ZM699.9 223.7 699.5 223.8 698.4 223.6 697.7 223.2 698.3 222.7 699.5 222.3ZM734.0 220.3 733.3 221.0 734.1 221.6 734.8 220.9ZM718.2 219.5 717.3 220.0 718.1 220.7 718.7 220.0ZM719.6 219.3 719.0 219.9 719.7 220.5 720.4 219.8ZM713.9 219.1 713.2 219.8 714.0 220.5 714.8 219.7ZM708.2 218.8 707.5 219.6 708.3 220.2 709.1 219.5Z"/>
<path d="M559.2,283.1 H592.8 V298.5 L587.8,303.5 H559.2 Z" fill="#fff" stroke="#1a1a1a" stroke-width="1.9"/>
<path d="M572.2,295.5 V243.5 H700.9 A2.6,2.6 0 0 1 706.1,243.5 H707.6 A2.6,2.6 0 0 1 712.8,243.5 H719.5 V278.8" fill="none" stroke="#1a1a1a" stroke-width="2.2" stroke-linejoin="miter" />
<path d="M581.5,295.5 V248 A4,4 0 0 1 581.5,240 V236.8 H703.5 V252.5" fill="none" stroke="#f3bf00" stroke-width="1.9" stroke-linejoin="miter" />
<path d="M710.2,252.5 V236 H727.5 V278.8" fill="none" stroke="#de2a1e" stroke-width="1.9" stroke-linejoin="miter" />
<circle cx="572.2" cy="295.5" r="4.6" fill="#1a1a1a"/>
<circle cx="581.5" cy="295.5" r="4.8" fill="#f3bf00"/>
<path d="M691.5,243.5 V254.5" fill="none" stroke="#1a1a1a" stroke-width="2.2" stroke-linejoin="miter" />
<circle cx="691.5" cy="243.5" r="5" fill="#1a1a1a"/>
<circle cx="691.5" cy="254.5" r="4.8" fill="#1a1a1a"/>
<circle cx="702.2" cy="252.5" r="4.4" fill="#f3bf00"/>
<circle cx="710.2" cy="252.5" r="4.7" fill="#de2a1e"/>
<circle cx="719" cy="278.8" r="5" fill="#1a1a1a"/>
<circle cx="727.6" cy="278.8" r="4.8" fill="#de2a1e"/>
<text x="594.5" y="299.2" font-size="11" font-weight="bold" fill="#111" text-anchor="start" textLength="29" lengthAdjust="spacingAndGlyphs" >CCTV 1</text>
<text x="664" y="255" font-size="6.2" font-weight="bold" fill="#111" text-anchor="start" textLength="20" lengthAdjust="spacingAndGlyphs" >CCTV1</text>
<g transform="translate(676,265)" fill="#fff" stroke="#8a8a8a" stroke-width="0.7" stroke-linejoin="round">
<path d="M13,18 V24 H28 V21.5 H29.5 V26 H31 V14 H29.5 V17 H22 V18 Z"/>
<path d="M1,8 L18,0.5 H28 L27.5,4 L16,9.5 Z"/>
<path d="M16,9.5 L27.5,4 L28,8 L17,17.5 Z"/>
<path d="M0,9 L16,9.5 L17,17.5 L3,17.5 L0.5,14 Z"/>
<rect x="5" y="11" width="9" height="6" fill="none" stroke="#999"/>
<circle cx="9.5" cy="14" r="1.8" fill="none"/>
</g>
<path d="M715,293 h7.5 M724.0,293 h7 M727.5,289.5 v7" stroke="#222" stroke-width="1"/>
<path fill="#111" d="M703.4 305.1 702.5 305.7 703.3 306.3 703.9 305.7ZM731.5 305.0 730.7 305.7 731.6 306.4 732.3 305.7ZM704.9 304.9 704.2 305.6 705.0 306.1 705.6 305.5ZM724.8 301.2 724.8 301.8 725.0 301.9 725.2 301.8 726.6 303.2 725.4 304.2 725.2 304.9 725.3 305.8 725.9 306.6 727.3 307.2 728.8 307.1 730.1 306.5 730.5 306.2 730.4 306.0 727.8 306.3 726.4 306.0 725.7 305.5 725.6 304.9 725.9 304.3 726.9 303.6 728.1 304.1 729.5 304.2 730.6 304.1 731.4 303.5 731.8 303.9 733.1 304.2 734.1 304.1 734.9 303.5 735.3 303.9 736.6 304.2 737.1 304.1 737.8 303.7 739.4 304.1 740.8 304.2 741.4 303.4 741.2 302.0 740.8 301.3 740.1 300.8 739.1 301.0 738.5 301.6 737.8 302.6 737.3 303.1 736.7 303.3 735.5 303.1 735.2 302.8 735.7 301.9 735.5 301.8 735.0 301.9 734.2 303.0 733.4 303.3 732.3 303.2 731.7 302.8 732.2 301.9 732.0 301.8 731.6 301.8 730.9 302.8 730.3 303.2 728.2 303.2 728.1 303.0 728.9 302.1 729.0 301.5 728.7 300.9 727.6 300.3 725.8 300.5 725.2 300.8ZM739.3 301.8 739.7 301.8 740.2 302.1 740.5 302.8 740.4 303.4 739.2 303.2 738.5 302.8ZM726.0 301.4 726.9 301.2 727.6 301.3 728.1 301.8 727.9 302.2 727.2 302.7 725.8 301.6ZM706.7 303.8 707.5 304.2 709.4 304.1 710.5 303.7 711.2 304.1 712.0 304.2 713.8 304.0 714.7 303.6 715.7 304.1 717.2 304.2 719.3 304.0 720.3 303.6 720.7 302.6 720.2 300.3 719.3 301.1 719.4 301.7 720.1 302.6 720.0 303.0 717.9 303.3 715.8 303.2 715.7 303.0 716.6 302.1 716.6 301.2 715.8 300.5 714.2 300.3 712.9 300.8 712.3 301.4 712.5 301.9 712.9 301.8 714.0 303.0 713.8 303.2 711.8 303.3 711.3 303.1 710.8 302.6 710.3 301.8 709.8 300.1 709.6 300.1 709.1 300.4 709.0 301.0 710.1 303.1 709.5 303.3 707.8 303.3 706.9 302.9ZM713.7 301.4 714.5 301.2 715.3 301.3 715.6 301.6 715.5 302.3 714.9 302.7 713.5 301.6ZM697.6 302.6 697.6 303.1 699.1 303.8 700.0 303.9 700.4 303.2 701.1 304.0 702.2 304.2 705.0 303.8 705.3 303.6 705.7 302.6 705.2 300.3 704.4 301.1 704.5 301.7 705.1 302.6 705.0 303.0 702.9 303.3 702.0 303.3 701.1 303.0 700.8 299.7 699.9 300.3 699.9 300.6 698.7 301.2 698.0 301.8ZM700.4 302.8 700.0 302.9 698.9 302.7 698.2 302.3 698.8 301.8 700.0 301.4ZM734.8 299.5 734.0 300.2 734.9 300.8 735.6 300.1ZM718.8 298.7 718.0 299.2 718.7 299.8 719.3 299.2ZM720.3 298.5 719.7 299.1 720.4 299.6 721.0 299.0ZM714.6 298.3 713.8 299.0 714.7 299.6 715.4 298.9ZM708.8 298.0 708.1 298.8 708.9 299.4 709.7 298.7Z"/>
<rect x="210" y="408.5" width="108.60000000000002" height="156.5" fill="none" stroke="#111" stroke-width="2"/>
<rect x="231.2" y="413.7" width="16.6" height="15.6" fill="#c4c4c4" stroke="#9a9a9a" stroke-width="0.8"/>
<circle cx="239.5" cy="421.5" r="6.3" fill="#e6e6e6" stroke="#888" stroke-width="0.6"/>
<circle cx="239.5" cy="421.5" r="5.2" fill="#f3bf00"/>
<rect x="247.9" y="413.7" width="16.6" height="15.6" fill="#c4c4c4" stroke="#9a9a9a" stroke-width="0.8"/>
<circle cx="256.2" cy="421.5" r="6.3" fill="#e6e6e6" stroke="#888" stroke-width="0.6"/>
<circle cx="256.2" cy="421.5" r="5.2" fill="#de2a1e"/>
<rect x="264.1" y="413.7" width="16.6" height="15.6" fill="#c4c4c4" stroke="#9a9a9a" stroke-width="0.8"/>
<circle cx="272.4" cy="421.5" r="6.3" fill="#e6e6e6" stroke="#888" stroke-width="0.6"/>
<circle cx="272.4" cy="421.5" r="5.2" fill="#1a1a1a"/>
<rect x="280.9" y="413.7" width="16.6" height="15.6" fill="#c4c4c4" stroke="#9a9a9a" stroke-width="0.8"/>
<circle cx="289.2" cy="421.5" r="6.3" fill="#e6e6e6" stroke="#888" stroke-width="0.6"/>
<circle cx="289.2" cy="421.5" r="5.2" fill="#c2c2c2"/>
<text x="239.5" y="439.7" font-size="11" font-weight="normal" fill="#de2a1e" text-anchor="middle" >1</text>
<text x="256.2" y="439.7" font-size="11" font-weight="normal" fill="#de2a1e" text-anchor="middle" >2</text>
<text x="272.4" y="439.7" font-size="11" font-weight="normal" fill="#de2a1e" text-anchor="middle" >3</text>
<text x="289.2" y="439.7" font-size="11" font-weight="normal" fill="#de2a1e" text-anchor="middle" >4</text>
<rect x="211.8" y="495.8" width="104.19999999999999" height="16.499999999999943" rx="8.249999999999972" fill="#efefef" stroke="#111" stroke-width="1.5"/>
<rect x="232.7" y="495.8" width="62.30000000000001" height="16.499999999999943" fill="#f2f2f2" stroke="#111" stroke-width="1.1"/>
<path d="M232.7,495.8 V512.3 M295,495.8 V512.3" stroke="#111" stroke-width="2"/>
<path d="M263.7,495.8 V512.3" stroke="#222" stroke-width="0.9"/>
<text x="224.5" y="508.24999999999994" font-size="12" font-weight="normal" fill="#de2a1e" text-anchor="middle" >1</text>
<text x="303.5" y="508.24999999999994" font-size="12" font-weight="normal" fill="#de2a1e" text-anchor="middle" >2</text>
<text x="224" y="532.8" font-size="9.6" font-weight="bold" fill="#d03a2c" text-anchor="start" textLength="75.3" lengthAdjust="spacingAndGlyphs" >Door Camera 1</text>
<text x="237.7" y="546.6" font-size="8.6" font-weight="normal" fill="#222" text-anchor="start" textLength="53" lengthAdjust="spacingAndGlyphs" >Micro Switch</text>
<rect x="251.7" y="548.3" width="25.0" height="11.700000000000045" fill="#8a8a8a" stroke="#666" stroke-width="0.7"/>
<path d="M264.2,548.3 V560" stroke="#ddd" stroke-width="0.8"/>
<text x="216.5" y="435.6" font-size="8.4" font-weight="normal" fill="#222" text-anchor="start" >0</text>
<text x="214.8" y="445.9" font-size="8.8" font-weight="normal" fill="#222" text-anchor="start" textLength="10.5" lengthAdjust="spacingAndGlyphs" >12</text>
<text x="213.5" y="466" font-size="8.6" font-weight="normal" fill="#222" text-anchor="start" textLength="11" lengthAdjust="spacingAndGlyphs" >L1</text>
<text x="213.5" y="475.7" font-size="8.6" font-weight="normal" fill="#222" text-anchor="start" textLength="11" lengthAdjust="spacingAndGlyphs" >L2</text>
<path d="M115,431.5 H210 M115,442.4 H210" fill="none" stroke="#555" stroke-width="0.8" stroke-linejoin="miter" />
<rect x="160.3" y="429.6" width="9.7" height="14.1" fill="#111"/><rect x="161" y="434.2" width="8.5" height="4.6" fill="#fff"/><rect x="170" y="428.6" width="9" height="17" fill="#fff" stroke="#222" stroke-width="1.1"/><path d="M176.5,431 H172.5 V443 H176.5" fill="none" stroke="#333" stroke-width="1"/><rect x="179.2" y="430" width="1.6" height="14" fill="#888"/>
<text x="128" y="438.6" font-size="3.6" font-weight="normal" fill="#777" text-anchor="start" textLength="16" lengthAdjust="spacingAndGlyphs" >220VAC</text>
<text x="185" y="438.6" font-size="3.6" font-weight="normal" fill="#777" text-anchor="start" textLength="14" lengthAdjust="spacingAndGlyphs" >12VAC</text>
<path d="M150,460.5 H210 M150,471.6 H210" fill="none" stroke="#555" stroke-width="0.9" stroke-linejoin="miter" />
<path d="M128.5,460.6 H150.5 V471.6 L128.5,473.5 Z" fill="none" stroke="#333" stroke-width="1.1"/>
<path d="M124,465.7 H133.2 M128.3,461 V473.5" stroke="#111" stroke-width="1.2"/>
<text x="114" y="485.6" font-size="8.2" font-weight="bold" fill="#d03a2c" text-anchor="start" textLength="25.3" lengthAdjust="spacingAndGlyphs" >Lock1</text>
<rect x="775.6" y="410.6" width="109.39999999999998" height="155.60000000000002" fill="none" stroke="#111" stroke-width="2"/>
<rect x="796.2" y="415.1" width="16.6" height="15.6" fill="#c4c4c4" stroke="#9a9a9a" stroke-width="0.8"/>
<circle cx="804.5" cy="422.9" r="6.3" fill="#e6e6e6" stroke="#888" stroke-width="0.6"/>
<circle cx="804.5" cy="422.9" r="5.2" fill="#f3bf00"/>
<rect x="813.0" y="415.1" width="16.6" height="15.6" fill="#c4c4c4" stroke="#9a9a9a" stroke-width="0.8"/>
<circle cx="821.3" cy="422.9" r="6.3" fill="#e6e6e6" stroke="#888" stroke-width="0.6"/>
<circle cx="821.3" cy="422.9" r="5.2" fill="#de2a1e"/>
<rect x="829.7" y="415.1" width="16.6" height="15.6" fill="#c4c4c4" stroke="#9a9a9a" stroke-width="0.8"/>
<circle cx="838" cy="422.9" r="6.3" fill="#e6e6e6" stroke="#888" stroke-width="0.6"/>
<circle cx="838" cy="422.9" r="5.2" fill="#1a1a1a"/>
<rect x="846.7" y="415.1" width="16.6" height="15.6" fill="#c4c4c4" stroke="#9a9a9a" stroke-width="0.8"/>
<circle cx="855" cy="422.9" r="6.3" fill="#e6e6e6" stroke="#888" stroke-width="0.6"/>
<circle cx="855" cy="422.9" r="5.2" fill="#c2c2c2"/>
<text x="804.5" y="444.8" font-size="11" font-weight="normal" fill="#de2a1e" text-anchor="middle" >1</text>
<text x="821.3" y="444.8" font-size="11" font-weight="normal" fill="#de2a1e" text-anchor="middle" >2</text>
<text x="838" y="444.8" font-size="11" font-weight="normal" fill="#de2a1e" text-anchor="middle" >3</text>
<text x="855" y="444.8" font-size="11" font-weight="normal" fill="#de2a1e" text-anchor="middle" >4</text>
<rect x="778.2" y="497.6" width="103.0" height="16.199999999999932" rx="8.099999999999966" fill="#efefef" stroke="#111" stroke-width="1.5"/>
<rect x="798.8" y="497.6" width="61.700000000000045" height="16.199999999999932" fill="#f2f2f2" stroke="#111" stroke-width="1.1"/>
<path d="M798.8,497.6 V513.8 M860.5,497.6 V513.8" stroke="#111" stroke-width="2"/>
<path d="M830,497.6 V513.8" stroke="#222" stroke-width="0.9"/>
<text x="788.5" y="509.9" font-size="12" font-weight="normal" fill="#de2a1e" text-anchor="middle" >1</text>
<text x="869.5" y="509.9" font-size="12" font-weight="normal" fill="#de2a1e" text-anchor="middle" >2</text>
<text x="792" y="534.2" font-size="9.6" font-weight="bold" fill="#d03a2c" text-anchor="start" textLength="75.5" lengthAdjust="spacingAndGlyphs" >Door Camera 2</text>
<text x="803.8" y="548.2" font-size="8.6" font-weight="normal" fill="#222" text-anchor="start" textLength="52.5" lengthAdjust="spacingAndGlyphs" >Micro Switch</text>
<rect x="816.3" y="550" width="26.700000000000045" height="11.299999999999955" fill="#8a8a8a" stroke="#666" stroke-width="0.7"/>
<path d="M829.65,550 V561.3" stroke="#ddd" stroke-width="0.8"/>
<text x="871.5" y="436.8" font-size="8.4" font-weight="bold" fill="#222" text-anchor="start" textLength="9" lengthAdjust="spacingAndGlyphs" >I0</text>
<text x="871.5" y="446.5" font-size="8.4" font-weight="bold" fill="#222" text-anchor="start" textLength="9.8" lengthAdjust="spacingAndGlyphs" >12</text>
<text x="870.3" y="466.6" font-size="8.6" font-weight="normal" fill="#222" text-anchor="start" textLength="11.5" lengthAdjust="spacingAndGlyphs" >L1</text>
<text x="870.3" y="476.9" font-size="8.6" font-weight="normal" fill="#222" text-anchor="start" textLength="11.5" lengthAdjust="spacingAndGlyphs" >L2</text>
<path d="M885,432.5 H980 M885,443.3 H980" fill="none" stroke="#555" stroke-width="0.8" stroke-linejoin="miter" />
<rect x="914.3" y="432" width="1.6" height="14" fill="#888"/><rect x="916.3" y="431" width="9" height="15.2" fill="#fff" stroke="#222" stroke-width="1.1"/><path d="M924,433 H920 V444 H924" fill="none" stroke="#333" stroke-width="1"/><rect x="925.3" y="431.5" width="9.5" height="14" fill="#111"/><rect x="926" y="435.5" width="8.3" height="5" fill="#fff"/>
<text x="893" y="440" font-size="3.6" font-weight="normal" fill="#777" text-anchor="start" textLength="14" lengthAdjust="spacingAndGlyphs" >12VAC</text>
<text x="950.5" y="440" font-size="3.6" font-weight="normal" fill="#777" text-anchor="start" textLength="17" lengthAdjust="spacingAndGlyphs" >220VAC</text>
<path d="M885,462.6 H966 M885,473.6 H966" fill="none" stroke="#555" stroke-width="0.8" stroke-linejoin="miter" />
<path d="M945.5,461.5 H967.5 V475.5 L945.5,474.5 Z" fill="#f6f6f6" stroke="#333" stroke-width="1.1"/>
<path d="M962,467.3 H971 M966.3,463 V472" stroke="#111" stroke-width="1"/>
<text x="945" y="485.5" font-size="8.2" font-weight="bold" fill="#d03a2c" text-anchor="start" textLength="23" lengthAdjust="spacingAndGlyphs" >Lock2</text>
<path d="M239.5,421 V385.3 H454.3 V372" fill="none" stroke="#f3bf00" stroke-width="1.2" stroke-linejoin="miter" />
<path d="M256.2,421 V394.5 H443.7 V372" fill="none" stroke="#de2a1e" stroke-width="1.2" stroke-linejoin="miter" />
<path d="M272.4,421 V401 H434.7 V372" fill="none" stroke="#555" stroke-width="1.4" stroke-linejoin="miter" />
<path d="M289.2,421 H425.3 V372" fill="none" stroke="#c8c8c8" stroke-width="1.1" stroke-linejoin="miter" />
<path d="M379.7,385.3 V438.3 H468.7 V577.5" fill="none" stroke="#f3bf00" stroke-width="1.9" stroke-linejoin="miter" />
<path d="M368.3,394.5 V469.2 H457.7 V577.5" fill="none" stroke="#de2a1e" stroke-width="2.3" stroke-linejoin="miter" />
<path d="M356.7,401 V418 A2.5,2.5 0 0 1 356.7,423 V483.3 H446.6 V577.5" fill="none" stroke="#1a1a1a" stroke-width="1.7" stroke-linejoin="miter" />
<path d="M344.7,420.5 V505.2 H436.1 V577.5" fill="none" stroke="#c8c8c8" stroke-width="1.7" stroke-linejoin="miter" />
<circle cx="379.7" cy="385.3" r="4" fill="#f3bf00"/>
<circle cx="368.3" cy="394.5" r="4.3" fill="#de2a1e"/>
<circle cx="356.7" cy="401" r="4" fill="#1a1a1a"/>
<circle cx="344.7" cy="420.5" r="4" fill="#cfcfcf"/>
<path d="M414,372.5 H332.8 V382.5 Q342.5,403 332.8,423.5 V503.3 H291" fill="none" stroke="#0f9f4c" stroke-width="1.6" stroke-linejoin="miter" />
<path d="M236,503.3 H191.7 V569.5 H425.2 V577.5" fill="none" stroke="#0f9f4c" stroke-width="1.7" stroke-linejoin="miter" />
<path d="M495.7,373.3 V340.7 H741.6 V344 L745,351 Q753,381 745,411 L741.6,415 V485 H892.5 V505 H852" fill="none" stroke="#0f9f4c" stroke-width="1.6" stroke-linejoin="miter" />
<path d="M506.1,373.3 V348.3 H855 V423" fill="none" stroke="#c6c6c6" stroke-width="1.4" stroke-linejoin="miter" />
<path d="M516.3,373.3 V358.7 H838 V423" fill="none" stroke="#262626" stroke-width="1.4" stroke-linejoin="miter" />
<path d="M535.3,373.3 V394.5 H804.5 V423" fill="none" stroke="#f3bf00" stroke-width="1.3" stroke-linejoin="miter" />
<path d="M525.9,373.3 V403.2 H821.3 V423" fill="none" stroke="#de2a1e" stroke-width="1.3" stroke-linejoin="miter" />
<path d="M707,348.3 V391 Q704.5,398 707,406 V517.3 H511.4 V579.5" fill="none" stroke="#c4c4c4" stroke-width="1.8" stroke-linejoin="miter" />
<path d="M714.6,358.7 V392 Q709.5,400 714.6,408 V524.7 H522 V579.5" fill="none" stroke="#1a1a1a" stroke-width="1.7" stroke-linejoin="miter" />
<path d="M721,403.2 V533.3 H533 V579.5" fill="none" stroke="#de2a1e" stroke-width="1.7" stroke-linejoin="miter" />
<path d="M727.2,394.5 V542 H543.7 V579.5" fill="none" stroke="#f3bf00" stroke-width="1.9" stroke-linejoin="miter" />
<path d="M500.6,579.5 V505.5 H698 Q714,500 730,505.5 H797.5" fill="none" stroke="#0f9f4c" stroke-width="1.7" stroke-linejoin="miter" />
<circle cx="707" cy="347.8" r="4.2" fill="#d6d6d6"/>
<circle cx="714.6" cy="358.7" r="4.3" fill="#1a1a1a"/>
<circle cx="721" cy="402.9" r="4.2" fill="#de2a1e"/>
<circle cx="727.2" cy="394.1" r="4.3" fill="#f3bf00"/>
<circle cx="236.5" cy="503.5" r="3.6" fill="#0f9f4c"/>
<circle cx="241" cy="504" r="2.2" fill="none" stroke="#333" stroke-width="0.7"/><circle cx="288.3" cy="504" r="2.2" fill="none" stroke="#333" stroke-width="0.7"/>
<circle cx="797.5" cy="505" r="4" fill="#0f9f4c"/>
<circle cx="852" cy="505" r="4.5" fill="#0f9f4c"/>
<circle cx="805.2" cy="505.5" r="2.3" fill="none" stroke="#333" stroke-width="0.7"/>
<path d="M407.3,377 V369 Q407.3,366 410.3,366 H460 Q463,366 463,369 V377" fill="none" stroke="#111" stroke-width="1.6"/>
<circle cx="414" cy="372" r="5" fill="#0f9f4c"/>
<circle cx="425.3" cy="372" r="4.6" fill="#c2c2c2"/>
<circle cx="434.7" cy="372" r="5" fill="#1a1a1a"/>
<circle cx="443.7" cy="372" r="5" fill="#de2a1e"/>
<circle cx="454.3" cy="372" r="5.3" fill="#f3bf00"/>
<text x="410" y="389" font-size="13.6" font-weight="bold" fill="#111" text-anchor="start" textLength="8.8" lengthAdjust="spacingAndGlyphs" >B</text>
<text x="422.3" y="389" font-size="13.6" font-weight="bold" fill="#111" text-anchor="start" textLength="34.7" lengthAdjust="spacingAndGlyphs" >4321</text>
<path d="M490.7,380.3 V370.2 Q490.7,367.2 493.7,367.2 H537.8 Q540.8,367.2 540.8,370.2 V380.3" fill="none" stroke="#111" stroke-width="1.6"/>
<circle cx="495.7" cy="373.3" r="4.8" fill="#0f9f4c"/>
<circle cx="506.1" cy="373.3" r="4.8" fill="#c2c2c2"/>
<circle cx="516.3" cy="373.3" r="4.8" fill="#1a1a1a"/>
<circle cx="525.9" cy="373.3" r="4.6" fill="#de2a1e"/>
<circle cx="535.3" cy="373.3" r="4.8" fill="#f3bf00"/>
<text x="492.2" y="390.4" font-size="13" font-weight="bold" fill="#111" text-anchor="start" textLength="8.8" lengthAdjust="spacingAndGlyphs" >B</text>
<text x="504.5" y="390.4" font-size="13" font-weight="bold" fill="#111" text-anchor="start" textLength="33.70000000000006" lengthAdjust="spacingAndGlyphs" >4321</text>
<path d="M417.7,585 V572.2 Q417.7,569.2 420.7,569.2 H473.2 Q476.2,569.2 476.2,572.2 V585" fill="none" stroke="#111" stroke-width="1.6"/>
<circle cx="425.2" cy="577.5" r="4.4" fill="#0f9f4c"/>
<circle cx="436.1" cy="577.5" r="3.8" fill="#c2c2c2"/>
<circle cx="446.6" cy="577.5" r="3.9" fill="#1a1a1a"/>
<circle cx="457.7" cy="577.5" r="3.9" fill="#de2a1e"/>
<circle cx="468.7" cy="577.5" r="4.1" fill="#f3bf00"/>
<text x="420.7" y="596.2" font-size="14.4" font-weight="bold" fill="#111" text-anchor="start" textLength="8.8" lengthAdjust="spacingAndGlyphs" >B</text>
<text x="433.0" y="596.2" font-size="14.4" font-weight="bold" fill="#111" text-anchor="start" textLength="36.39999999999999" lengthAdjust="spacingAndGlyphs" >4321</text>
<path d="M492.7,586.7 V573.8 Q492.7,570.8 495.7,570.8 H549.2 Q552.2,570.8 552.2,573.8 V586.7" fill="none" stroke="#111" stroke-width="1.6"/>
<circle cx="500.6" cy="579.5" r="4.1" fill="#0f9f4c"/>
<circle cx="511.4" cy="579.5" r="3.9" fill="#c2c2c2"/>
<circle cx="522" cy="579.5" r="4" fill="#1a1a1a"/>
<circle cx="533" cy="579.5" r="4" fill="#de2a1e"/>
<circle cx="543.7" cy="579.5" r="4.1" fill="#f3bf00"/>
<text x="495.8" y="597.4" font-size="14" font-weight="bold" fill="#111" text-anchor="start" textLength="8.8" lengthAdjust="spacingAndGlyphs" >B</text>
<text x="508.1" y="597.4" font-size="14" font-weight="bold" fill="#111" text-anchor="start" textLength="38.60000000000004" lengthAdjust="spacingAndGlyphs" >4321</text>
<g transform="translate(0,461.5)">
<rect x="142.5" y="205.5" width="123" height="78" rx="5" fill="#fff" stroke="#6a6a6a" stroke-width="1"/>
<path d="M148,206.3 H261" stroke="#777" stroke-width="1.6"/>
<rect x="146" y="208.5" width="93.5" height="73" fill="#ececec" stroke="#707070" stroke-width="0.9"/>
<rect x="149.8" y="211.8" width="86" height="66" fill="#fff" stroke="#5a5a5a" stroke-width="1.4"/>
<path d="M144.6,210.1 L147.6,207.1 L150.6,210.1 L147.6,213.1 Z" fill="#fff" stroke="#777" stroke-width="0.6"/>
<path d="M234.8,210.1 L237.8,207.1 L240.8,210.1 L237.8,213.1 Z" fill="#fff" stroke="#777" stroke-width="0.6"/>
<path d="M144.6,279.6 L147.6,276.6 L150.6,279.6 L147.6,282.6 Z" fill="#fff" stroke="#777" stroke-width="0.6"/>
<path d="M234.8,279.6 L237.8,276.6 L240.8,279.6 L237.8,282.6 Z" fill="#fff" stroke="#777" stroke-width="0.6"/>
<rect x="240.5" y="207" width="2.4" height="75" fill="#d0d0d0"/>
<circle cx="253.9" cy="216.3" r="6.2" fill="#fff" stroke="#777" stroke-width="0.8"/>
<path d="M249,216.3 H258.8 M253.9,211.5 V221 M250.5,213 L257.3,219.6 M257.3,213 L250.5,219.6" stroke="#888" stroke-width="0.5"/>
<circle cx="253.6" cy="270.3" r="0.9" fill="#555"/>
<circle cx="158.3" cy="213.6" r="1.7" fill="#555"/>
<circle cx="158.3" cy="275.5" r="1.7" fill="#555"/>
<circle cx="220" cy="215.8" r="1.7" fill="#555"/>
<circle cx="220" cy="269.3" r="1.7" fill="#555"/>
<rect x="224.1" y="210.1" width="6.7" height="15.2" fill="#555"/>
<rect x="224.1" y="264.1" width="6.7" height="14.1" fill="#555"/>
<rect x="184.1" y="256.8" width="11.9" height="11.8" fill="#555"/>
<rect x="193.8" y="209" width="2.6" height="13" fill="#bbb" stroke="#777" stroke-width="0.5"/>
<path d="M176.5,245 L172.5,250.5 C170,254 168.8,256 168.8,260 V281" fill="none" stroke="#555" stroke-width="3.8"/>
<path d="M176.5,245 L172.5,250.5 C170,254 168.8,256 168.8,260 V281" fill="none" stroke="#eee" stroke-width="1.4"/>
<rect x="185" y="221.2" width="4.8" height="5.5" fill="#d9302a"/>
<rect x="175.6" y="227.1" width="25.6" height="16.2" rx="2.5" fill="#fff" stroke="#d9302a" stroke-width="2"/>
<rect x="177.2" y="228.6" width="22.4" height="13.2" fill="none" stroke="#666" stroke-width="0.9"/>
<path d="M178.5,233 H184 V234.5 M187.5,231 H190 V233.5 H187.5 Z M178.5,239.5 H184 M187.5,238 H190 V240.5 H187.5 Z M192,239.5 H199" fill="none" stroke="#777" stroke-width="0.8"/>
</g>
<path d="M265.5,729 H410" fill="none" stroke="#de2a1e" stroke-width="2" stroke-linejoin="miter" />
<text x="279" y="722" font-size="9.6" font-weight="bold" fill="#de2a1e" text-anchor="start" textLength="40.3" lengthAdjust="spacingAndGlyphs" >Monitor 1</text>
<path d="M417.6,729 C414.6,726.5 411.6,724.4 405.1,724.4 L409.6,729 L405.1,733.6 C411.6,733.6 414.6,731.5 417.6,729 Z" fill="#de2a1e"/>
<path d="M312.5,600.7 H339.5 V610.6 L335,615.5 H312.5 Z" fill="#fff" stroke="#111" stroke-width="1.7"/>
<path d="M259.4,591 H331 V608" fill="none" stroke="#f3bf00" stroke-width="1.6" stroke-linejoin="miter" />
<path d="M259.4,599.4 H323 V608" fill="none" stroke="#bdbdbd" stroke-width="1.0" stroke-linejoin="miter" />
<circle cx="259.4" cy="591" r="3.7" fill="#f3bf00"/>
<circle cx="259.4" cy="599.4" r="3.4" fill="#c2c2c2"/>
<circle cx="323" cy="608" r="3.6" fill="#c2c2c2"/>
<circle cx="331" cy="608" r="3.6" fill="#f3bf00"/>
<path fill="#111" d="M222.9 595.3 222.3 595.9 222.1 596.4 222.4 597.4 223.1 598.6 223.0 599.3 222.1 600.2 221.4 600.4 220.2 600.2 220.0 600.6 221.3 601.5 222.3 601.3 222.8 600.9 223.5 599.6 223.6 597.7ZM237.7 595.0 237.4 595.1 236.9 595.8 236.9 596.2 237.5 597.4 237.5 597.8 236.3 598.1 234.9 597.9 234.7 597.5 235.1 596.2 234.6 596.1 234.4 596.4 233.9 597.9 233.6 598.2 232.8 598.1 233.3 596.3 232.8 596.2 232.5 596.5 232.2 597.5 231.9 598.1 231.0 598.2 230.7 598.0 231.1 596.7 230.6 596.7 230.2 597.5 229.7 598.0 228.5 598.1 227.8 596.0 227.1 595.3 226.5 595.3 226.0 595.8 225.4 597.0 225.4 598.2 225.6 598.6 226.2 599.0 227.7 599.3 226.8 600.2 226.0 600.4 224.7 600.2 224.6 600.6 225.9 601.5 226.3 601.5 227.5 600.9 228.0 600.2 228.4 599.2 230.2 599.0 230.9 599.3 232.2 599.1 233.7 599.3 234.2 599.1 234.4 598.7 235.6 599.2 236.3 599.2 237.3 598.9 237.8 598.6 238.1 597.4ZM225.9 596.9 226.2 596.5 226.8 596.4 227.5 597.0 227.8 598.0 226.4 597.9 226.0 597.6ZM237.3 592.7 237.1 592.7 236.5 593.4 237.2 594.1 237.8 593.4ZM250.1 592.1 249.7 592.1 249.1 592.6 249.5 599.2 250.1 599.1 250.1 593.6 250.4 593.3ZM239.4 592.8 239.8 598.0 240.3 598.8 241.1 599.2 242.7 599.0 243.4 599.3 244.2 599.3 244.8 599.1 245.0 598.8 246.7 599.3 247.4 599.2 247.8 597.7 247.3 595.3 246.5 596.1 246.5 596.6 247.2 598.1 247.2 598.3 246.1 598.1 245.3 597.7 245.7 596.3 245.2 596.2 245.0 596.5 244.7 597.5 244.3 598.1 243.4 598.2 243.2 598.0 243.5 596.7 243.1 596.7 242.7 597.5 242.1 598.0 240.9 598.0 240.6 597.7 240.4 592.1ZM248.2 591.1 248.5 591.2 249.1 591.0 249.5 591.2 250.2 591.2 250.8 590.9 251.0 590.5 250.3 590.7 248.8 590.5Z"/>
<path d="M358.1,651.1 H399.6 V663.6 L395,668.3 H358.1 Z" fill="#fff" stroke="#111" stroke-width="1.8"/>
<path d="M304.5,629.6 H391.6 V660.5" fill="none" stroke="#cdcdcd" stroke-width="1.4" stroke-linejoin="miter" />
<path d="M304.5,634.5 H383 V660.5" fill="none" stroke="#1a1a1a" stroke-width="1.4" stroke-linejoin="miter" />
<path d="M304.5,639.6 H376 V660.5" fill="none" stroke="#0f9f4c" stroke-width="1.4" stroke-linejoin="miter" />
<path d="M304.5,643.6 H369 V660.5" fill="none" stroke="#f3bf00" stroke-width="1.4" stroke-linejoin="miter" />
<rect x="366.3" y="657.8" width="5.3" height="5.4" fill="#111"/><circle cx="369" cy="660.6" r="2.7" fill="#f3bf00"/>
<rect x="373.4" y="657.8" width="5.3" height="5.4" fill="#111"/><circle cx="376.1" cy="660.6" r="2.7" fill="#0f9f4c"/>
<rect x="380.2" y="657.9" width="5.6" height="5.4" fill="#000"/>
<rect x="388.9" y="657.9" width="5.4" height="5.4" fill="#ccc" stroke="#999" stroke-width="0.6"/>
<text x="320.6" y="659" font-size="7.2" font-weight="bold" fill="#111" text-anchor="start" textLength="28.5" lengthAdjust="spacingAndGlyphs" >Intercom</text>
<path fill="#222" d="M346.1 665.7 345.5 666.1 346.1 666.5 346.6 666.0ZM352.4 662.8 352.0 663.1 352.0 663.6 352.7 664.8 352.7 665.0 352.4 665.5 351.7 666.0 351.3 666.1 350.1 666.0 350.1 666.3 351.0 666.6 351.7 666.5 352.2 666.3 352.9 665.4 353.0 664.2ZM332.8 662.5 332.4 662.7 332.4 663.1 333.3 664.5 332.8 664.7 331.5 664.7 330.9 664.4 330.8 664.9 331.4 665.2 332.3 665.2 333.3 664.9 333.7 664.1ZM348.2 661.3 347.7 661.8 348.2 662.2 348.7 661.7ZM325.5 661.3 324.9 661.8 325.5 662.2 326.0 661.7ZM349.4 661.3 349.0 661.7 349.5 662.0 350.0 661.6ZM354.7 660.5 354.2 660.8 354.4 665.2 354.7 665.1 354.7 661.5 355.0 661.3ZM343.3 660.8 343.6 664.6 343.9 665.0 344.5 665.2 345.1 665.2 345.6 665.0 346.0 664.8 346.9 665.2 347.8 665.2 349.0 665.0 349.5 664.7 349.7 663.8 349.4 662.7 349.3 662.7 348.9 663.1 349.4 664.2 349.3 664.5 348.4 664.7 346.8 664.7 346.2 664.4 346.6 663.7 346.3 663.7 345.8 664.3 345.3 664.7 344.3 664.7 344.0 664.5 343.8 664.2 343.8 660.5ZM337.9 660.6 337.6 660.8 337.6 661.4 338.2 664.1 337.6 664.6 336.4 664.4 336.3 664.6 337.3 665.0 338.3 665.2 339.9 665.2 341.4 664.7 341.9 664.2 342.0 663.5 341.5 663.0 340.8 662.7 339.9 662.8 338.6 663.7 338.3 662.0 338.3 661.5 338.4 661.2 338.2 660.5ZM341.7 664.0 341.5 664.2 340.1 664.7 338.1 664.6 339.1 663.7 339.8 663.3 340.3 663.2 341.0 663.4ZM329.7 660.5 329.2 660.8 329.4 665.2 329.7 665.1 329.7 661.5 330.0 661.3ZM328.1 663.9 326.8 663.8 325.1 662.9 324.2 662.8 323.7 663.1 323.6 663.6 324.8 663.3 325.3 663.5 326.2 664.2 324.2 664.7 322.5 664.7 322.2 664.5 322.1 664.0 322.0 660.5 321.5 660.8 321.8 664.5 321.4 664.7 319.0 664.6 318.8 665.0 320.2 665.8 319.4 666.3 318.2 666.5 317.1 666.5 316.5 666.3 315.9 665.7 316.0 664.9 315.8 664.8 315.6 665.2 315.6 666.1 315.8 666.4 316.6 666.9 318.5 666.9 319.8 666.5 320.5 666.0 320.5 665.5 319.9 665.2 319.9 665.1 321.3 665.2 322.0 664.9 322.7 665.2 324.5 665.1 326.7 664.3 327.7 664.3Z"/>
<g transform="translate(14.2,420.5)">
<rect x="404.4" y="230.1" width="140" height="94.8" rx="7" fill="#999" stroke="#000" stroke-width="2.1"/>
<path d="M417.1,243.9 H457.6 V250.9 L453.6,255.9 H417.1 Z" fill="#fff"/>
<rect x="422" y="247.1" width="4.8" height="5.0" fill="#000"/>
<rect x="428.8" y="247.1" width="4.8" height="5.0" fill="#000"/>
<rect x="435.9" y="247.1" width="4.8" height="5.0" fill="#000"/>
<rect x="441.1" y="247.1" width="4.8" height="5.0" fill="#000"/>
<rect x="448.1" y="247.1" width="4.8" height="5.0" fill="#000"/>
<path d="M464.8,243.9 H485.75 V250.9 L481.75,255.9 H464.8 Z" fill="#fff"/>
<rect x="469" y="247.1" width="4.8" height="5.0" fill="#000"/>
<rect x="475.4" y="247.1" width="4.8" height="5.0" fill="#000"/>
<path d="M512,243.9 H533 V250.9 L529,255.9 H512 Z" fill="#fff"/>
<rect x="518" y="247.1" width="4.8" height="5.0" fill="#000"/>
<rect x="524" y="247.1" width="4.8" height="5.0" fill="#000"/>
<path d="M417.1,291.25 H457.6 V298.1 L453.6,303.1 H417.1 Z" fill="#fff"/>
<rect x="422" y="294.4" width="4.8" height="5.0" fill="#000"/>
<rect x="428.8" y="294.4" width="4.8" height="5.0" fill="#000"/>
<rect x="435.9" y="294.4" width="4.8" height="5.0" fill="#000"/>
<rect x="441.1" y="294.4" width="4.8" height="5.0" fill="#000"/>
<rect x="448.1" y="294.4" width="4.8" height="5.0" fill="#000"/>
<path d="M464.8,291.25 H485.75 V298.1 L481.75,303.1 H464.8 Z" fill="#fff"/>
<rect x="469" y="294.4" width="4.8" height="5.0" fill="#000"/>
<rect x="475.4" y="294.4" width="4.8" height="5.0" fill="#000"/>
<path d="M498.3,291.25 H533.5 V298.1 L529.5,303.1 H498.3 Z" fill="#fff"/>
<rect x="503" y="294.4" width="4.5" height="5.0" fill="#000"/>
<rect x="510.5" y="294.4" width="4.5" height="5.0" fill="#000"/>
<rect x="515.5" y="294.4" width="4.5" height="5.0" fill="#000"/>
<rect x="523" y="294.4" width="4.5" height="5.0" fill="#000"/>
<text x="417.1" y="265.6" font-size="7.6" font-weight="normal" fill="#fff" text-anchor="start" textLength="23" lengthAdjust="spacingAndGlyphs" >DOOR2</text>
<text x="464.8" y="265.6" font-size="7.6" font-weight="normal" fill="#fff" text-anchor="start" textLength="21" lengthAdjust="spacingAndGlyphs" >CCTV2</text>
<text x="512" y="265.6" font-size="7.6" font-weight="normal" fill="#fff" text-anchor="start" textLength="17.3" lengthAdjust="spacingAndGlyphs" >ELEV</text>
<text x="417.1" y="311.5" font-size="7.6" font-weight="normal" fill="#fff" text-anchor="start" textLength="23" lengthAdjust="spacingAndGlyphs" >DOOR1</text>
<text x="464.8" y="311.5" font-size="7.6" font-weight="normal" fill="#fff" text-anchor="start" textLength="21" lengthAdjust="spacingAndGlyphs" >CCTV1</text>
<text x="496.5" y="311.5" font-size="7.6" font-weight="normal" fill="#fff" text-anchor="start" textLength="35.4" lengthAdjust="spacingAndGlyphs" >INTERCOM</text>
</g>
<path d="M339.5,610.4 H532.4 V657" fill="none" stroke="#de2a1e" stroke-width="1.6" stroke-linejoin="miter" />
<path d="M532.4,665 C529.9,662 527.8,659 527.8,652.5 L532.4,657.0 L537.0,652.5 C537.0,659 534.9,662 532.4,665 Z" fill="#de2a1e"/>
<path d="M399.6,655.4 H520 V710" fill="none" stroke="#de2a1e" stroke-width="1.6" stroke-linejoin="miter" />
<path d="M520,718 C517.5,715 515.4,712 515.4,705.5 L520,710.0 L524.6,705.5 C524.6,712 522.5,715 520,718 Z" fill="#de2a1e"/>
<path d="M638,647.5 H487.6 V670" fill="none" stroke="#de2a1e" stroke-width="1.6" stroke-linejoin="miter" />
<path d="M487.6,677 C485.1,674 483.0,671 483.0,664.5 L487.6,669.0 L492.20000000000005,664.5 C492.20000000000005,671 490.1,674 487.6,677 Z" fill="#de2a1e"/>
<path d="M638,741.7 H490.4 V733" fill="none" stroke="#de2a1e" stroke-width="1.6" stroke-linejoin="miter" />
<path d="M490.4,725 C487.9,728 485.79999999999995,731 485.79999999999995,737.5 L490.4,733.0 L495.0,737.5 C495.0,731 492.9,728 490.4,725 Z" fill="#de2a1e"/>
<path d="M638,644.3 H670.3 V660.3 L665.3,665.3 H638 Z" fill="#fff" stroke="#1a1a1a" stroke-width="1.9"/>
<path d="M649.2,654.7 V603.3 H775.7 A2.6,2.6 0 0 1 780.9,603.3 H784.1 A2.6,2.6 0 0 1 789.3,603.3 H796.7 V638.3" fill="none" stroke="#1a1a1a" stroke-width="2.2" stroke-linejoin="miter" />
<path d="M659.7,654.7 V608 A4,4 0 0 1 659.7,600 V596.7 H778.3 V611.3" fill="none" stroke="#f3bf00" stroke-width="1.9" stroke-linejoin="miter" />
<path d="M786.7,611.3 V595.5 H805 V638.3" fill="none" stroke="#de2a1e" stroke-width="1.9" stroke-linejoin="miter" />
<circle cx="649.2" cy="654.7" r="4.5" fill="#1a1a1a"/>
<circle cx="659.7" cy="654.7" r="4.6" fill="#f3bf00"/>
<path d="M768.3,603.3 V616.7" fill="none" stroke="#1a1a1a" stroke-width="2.2" stroke-linejoin="miter" />
<circle cx="768.3" cy="603.3" r="5" fill="#1a1a1a"/>
<circle cx="768.3" cy="616.7" r="4.6" fill="#1a1a1a"/>
<circle cx="778.3" cy="611.3" r="4.2" fill="#f3bf00"/>
<circle cx="786.7" cy="611.3" r="4.5" fill="#de2a1e"/>
<circle cx="796.7" cy="638.3" r="5" fill="#1a1a1a"/>
<circle cx="805" cy="638.3" r="4.5" fill="#de2a1e"/>
<text x="673" y="662" font-size="11" font-weight="bold" fill="#111" text-anchor="start" textLength="29.5" lengthAdjust="spacingAndGlyphs" >CCTV 2</text>
<text x="739.2" y="613" font-size="6.2" font-weight="bold" fill="#111" text-anchor="start" textLength="18.3" lengthAdjust="spacingAndGlyphs" >CCTV2</text>
<g transform="translate(753.5,624.5)" fill="#fff" stroke="#8a8a8a" stroke-width="0.7" stroke-linejoin="round">
<path d="M13,18 V24 H28 V21.5 H29.5 V26 H31 V14 H29.5 V17 H22 V18 Z"/>
<path d="M1,8 L18,0.5 H28 L27.5,4 L16,9.5 Z"/>
<path d="M16,9.5 L27.5,4 L28,8 L17,17.5 Z"/>
<path d="M0,9 L16,9.5 L17,17.5 L3,17.5 L0.5,14 Z"/>
<rect x="5" y="11" width="9" height="6" fill="none" stroke="#999"/>
<circle cx="9.5" cy="14" r="1.8" fill="none"/>
</g>
<path d="M793.3,652.5 h7.5 M801.5,652.5 h7 M805,649.0 v7" stroke="#222" stroke-width="1"/>
<path fill="#111" d="M781.7 664.7 780.9 665.2 781.6 665.8 782.3 665.2ZM809.9 664.6 809.2 665.3 810.0 665.9 810.8 665.2ZM783.2 664.5 782.6 665.1 783.3 665.7 784.0 665.0ZM803.2 660.6 803.2 661.2 803.4 661.4 803.6 661.3 805.0 662.6 803.8 663.7 803.6 664.4 803.7 665.4 804.4 666.2 805.7 666.8 807.2 666.7 808.5 666.1 809.0 665.7 808.8 665.6 806.3 665.8 804.8 665.6 804.1 665.0 804.0 664.5 804.4 663.8 805.3 663.1 806.5 663.6 808.0 663.7 809.1 663.6 809.8 663.0 810.2 663.4 811.5 663.7 812.6 663.6 813.3 663.0 813.8 663.4 815.0 663.7 815.6 663.6 816.3 663.2 817.9 663.6 819.3 663.7 819.9 662.9 819.7 661.5 819.3 660.7 818.6 660.2 817.6 660.4 817.0 661.0 816.3 662.1 815.8 662.6 815.1 662.7 814.0 662.6 813.6 662.3 814.2 661.4 814.0 661.2 813.4 661.4 812.7 662.5 811.8 662.7 810.8 662.6 810.1 662.3 810.7 661.4 810.4 661.2 810.0 661.3 809.4 662.3 808.7 662.6 806.6 662.6 806.5 662.5 807.3 661.5 807.5 660.9 807.1 660.3 806.1 659.7 804.3 659.9 803.6 660.2ZM817.8 661.3 818.2 661.2 818.7 661.5 819.0 662.3 818.9 662.8 817.7 662.6 817.0 662.3ZM804.5 660.8 805.3 660.6 806.1 660.7 806.5 661.3 806.4 661.6 805.6 662.2 804.3 661.0ZM785.0 663.3 785.9 663.7 787.7 663.6 788.9 663.2 789.5 663.6 790.4 663.7 792.2 663.5 793.0 663.1 794.1 663.6 795.6 663.7 797.7 663.5 798.7 663.1 799.1 662.1 798.6 659.7 797.7 660.5 797.8 661.1 798.5 662.1 798.4 662.5 796.2 662.7 794.2 662.6 794.1 662.5 795.0 661.5 795.0 660.6 794.2 659.9 792.6 659.7 791.2 660.2 790.7 660.8 790.9 661.4 791.2 661.3 792.4 662.5 792.2 662.6 790.2 662.7 789.6 662.6 789.2 662.1 788.7 661.2 788.1 659.4 787.9 659.4 787.5 659.8 787.4 660.4 788.5 662.6 787.8 662.7 786.1 662.7 785.2 662.4ZM792.1 660.8 792.8 660.6 793.7 660.7 794.0 661.0 793.9 661.7 793.3 662.2 791.9 661.0ZM775.9 662.1 775.9 662.6 777.5 663.3 778.3 663.4 778.7 662.6 779.4 663.5 780.6 663.7 783.3 663.3 783.6 663.1 784.1 662.1 783.5 659.7 782.7 660.5 782.8 661.1 783.4 662.1 783.3 662.5 781.2 662.7 780.3 662.7 779.4 662.5 779.2 659.1 778.2 659.6 778.2 660.0 777.0 660.6 776.3 661.3ZM778.7 662.3 778.3 662.4 777.2 662.2 776.5 661.7 777.1 661.3 778.3 660.8ZM813.2 658.8 812.5 659.5 813.3 660.2 814.1 659.4ZM797.2 658.0 796.4 658.5 797.1 659.2 797.7 658.5ZM798.7 657.8 798.1 658.4 798.8 659.0 799.4 658.4ZM792.9 657.6 792.2 658.4 793.0 659.0 793.8 658.3ZM787.2 657.3 786.4 658.1 787.3 658.7 788.0 658.0Z"/>
<path d="M638,722.6 H670.3 V737.5 L665.3,742.5 H638 Z" fill="#fff" stroke="#1a1a1a" stroke-width="1.9"/>
<path d="M650.3,734.2 V682 H779.4 A2.6,2.6 0 0 1 784.6,682 H786.6 A2.6,2.6 0 0 1 791.8,682 H797.5 V718.3" fill="none" stroke="#1a1a1a" stroke-width="2.2" stroke-linejoin="miter" />
<path d="M660.3,734.2 V687.5 A4,4 0 0 1 660.3,679.5 V675.8 H782 V691.3" fill="none" stroke="#f3bf00" stroke-width="1.9" stroke-linejoin="miter" />
<path d="M789.2,691.3 V673.7 H805.3 V718.3" fill="none" stroke="#de2a1e" stroke-width="1.9" stroke-linejoin="miter" />
<circle cx="650.3" cy="734.2" r="4.5" fill="#1a1a1a"/>
<circle cx="660.3" cy="734.2" r="4.6" fill="#f3bf00"/>
<path d="M770,682 V694.2" fill="none" stroke="#1a1a1a" stroke-width="2.2" stroke-linejoin="miter" />
<circle cx="770" cy="682" r="5" fill="#1a1a1a"/>
<circle cx="770" cy="694.2" r="4.6" fill="#1a1a1a"/>
<circle cx="782" cy="691.3" r="4.3" fill="#f3bf00"/>
<circle cx="789.2" cy="691.3" r="4.6" fill="#de2a1e"/>
<circle cx="797.5" cy="718.3" r="5" fill="#1a1a1a"/>
<circle cx="805.3" cy="718.3" r="4.6" fill="#de2a1e"/>
<text x="673" y="738.6" font-size="11" font-weight="bold" fill="#111" text-anchor="start" textLength="29.5" lengthAdjust="spacingAndGlyphs" >CCTV 1</text>
<text x="742.5" y="692.2" font-size="6.2" font-weight="bold" fill="#111" text-anchor="start" textLength="19.2" lengthAdjust="spacingAndGlyphs" >CCTV1</text>
<g transform="translate(754,704)" fill="#fff" stroke="#8a8a8a" stroke-width="0.7" stroke-linejoin="round">
<path d="M13,18 V24 H28 V21.5 H29.5 V26 H31 V14 H29.5 V17 H22 V18 Z"/>
<path d="M1,8 L18,0.5 H28 L27.5,4 L16,9.5 Z"/>
<path d="M16,9.5 L27.5,4 L28,8 L17,17.5 Z"/>
<path d="M0,9 L16,9.5 L17,17.5 L3,17.5 L0.5,14 Z"/>
<rect x="5" y="11" width="9" height="6" fill="none" stroke="#999"/>
<circle cx="9.5" cy="14" r="1.8" fill="none"/>
</g>
<path d="M793.5,732.5 h7.5 M801.5,732.5 h7 M805,729.0 v7" stroke="#222" stroke-width="1"/>
<path fill="#111" d="M782.6 744.2 781.8 744.7 782.5 745.3 783.1 744.7ZM810.7 744.1 810.0 744.8 810.8 745.4 811.6 744.7ZM784.1 744.0 783.5 744.6 784.2 745.1 784.8 744.5ZM804.0 740.4 804.0 740.9 804.2 741.1 804.4 741.0 805.8 742.3 804.7 743.3 804.4 743.9 804.6 744.9 805.2 745.6 806.6 746.2 808.1 746.1 809.3 745.6 809.8 745.2 809.7 745.0 807.1 745.3 805.6 745.0 805.0 744.5 804.9 744.0 805.2 743.4 806.2 742.7 807.3 743.2 808.8 743.3 809.9 743.2 810.6 742.6 811.1 743.0 812.3 743.3 813.4 743.2 814.1 742.6 814.6 743.0 815.8 743.3 816.4 743.2 817.1 742.8 818.7 743.2 820.1 743.3 820.7 742.6 820.5 741.2 820.1 740.5 819.4 740.0 818.4 740.2 817.8 740.8 817.1 741.8 816.6 742.2 816.0 742.4 814.8 742.2 814.5 742.0 815.0 741.1 814.8 740.9 814.2 741.1 813.5 742.1 812.7 742.4 811.6 742.3 810.9 742.0 811.5 741.1 811.3 740.9 810.8 741.0 810.2 742.0 809.6 742.3 807.4 742.3 807.3 742.1 808.2 741.3 808.3 740.7 808.0 740.1 806.9 739.6 805.1 739.7 804.4 740.0ZM818.6 741.0 819.0 740.9 819.5 741.3 819.8 742.0 819.7 742.5 818.5 742.3 817.8 742.0ZM805.3 740.6 806.2 740.4 806.9 740.5 807.3 741.0 807.2 741.4 806.5 741.9 805.1 740.8ZM785.9 742.9 786.8 743.3 788.6 743.2 789.7 742.8 790.4 743.2 791.2 743.3 793.1 743.1 793.9 742.7 795.0 743.2 796.5 743.3 798.6 743.1 799.5 742.7 800.0 741.8 799.4 739.6 798.6 740.3 798.7 740.9 799.3 741.8 799.2 742.1 797.1 742.4 795.1 742.3 795.0 742.1 795.8 741.3 795.8 740.4 795.1 739.7 793.5 739.6 792.1 740.0 791.6 740.6 791.8 741.1 792.1 741.0 793.3 742.1 793.1 742.3 791.0 742.4 790.5 742.2 790.1 741.8 789.5 740.9 789.0 739.3 788.8 739.3 788.4 739.7 788.3 740.2 789.3 742.2 788.7 742.4 787.0 742.4 786.1 742.0ZM792.9 740.6 793.7 740.4 794.5 740.5 794.9 740.8 794.8 741.5 794.1 741.9 792.7 740.8ZM776.8 741.8 776.8 742.2 778.4 742.9 779.2 743.0 779.6 742.3 780.3 743.1 781.4 743.3 784.2 742.9 784.5 742.7 785.0 741.8 784.4 739.6 783.6 740.3 783.7 740.9 784.3 741.8 784.2 742.1 782.1 742.4 781.2 742.4 780.3 742.1 780.1 739.0 779.1 739.5 779.1 739.8 777.9 740.4 777.2 741.0ZM779.6 742.0 779.2 742.0 778.1 741.9 777.4 741.5 778.0 741.0 779.2 740.6ZM814.0 738.7 813.3 739.4 814.1 740.0 814.9 739.3ZM798.1 737.9 797.2 738.5 798.0 739.1 798.6 738.5ZM799.5 737.8 798.9 738.4 799.7 738.9 800.3 738.3ZM793.8 737.6 793.1 738.3 793.9 738.9 794.6 738.2ZM788.0 737.3 787.3 738.0 788.2 738.6 788.9 737.9Z"/>
</svg>
<div id="shade"></div>
<svg id="logo" width="1200" height="800" viewBox="0 0 1200 800">
<g fill="none" stroke="#fdf9ee" stroke-width="10.5" stroke-linecap="round" stroke-linejoin="round">
<path d="M1144.7,717 L1152,712.5 L1175,712.5"/>
<path d="M1161.7,729.5 L1161.7,763"/>
<path d="M1097.5,729.5 L1097.5,762.5 L1146.5,762.5 L1146.5,748 L1123,735.5 L1117.5,740"/>
<path d="M1081,742 L1081,759 L1073.5,770"/>
<rect x="1037.8" y="739" width="22" height="24" rx="2"/>
</g>
<g fill="#fdf9ee"><circle cx="1108.3" cy="776.7" r="6"/><circle cx="1122.5" cy="776.7" r="6"/><circle cx="1136.7" cy="776.7" r="6"/></g>

</svg>
</div></body></html>
